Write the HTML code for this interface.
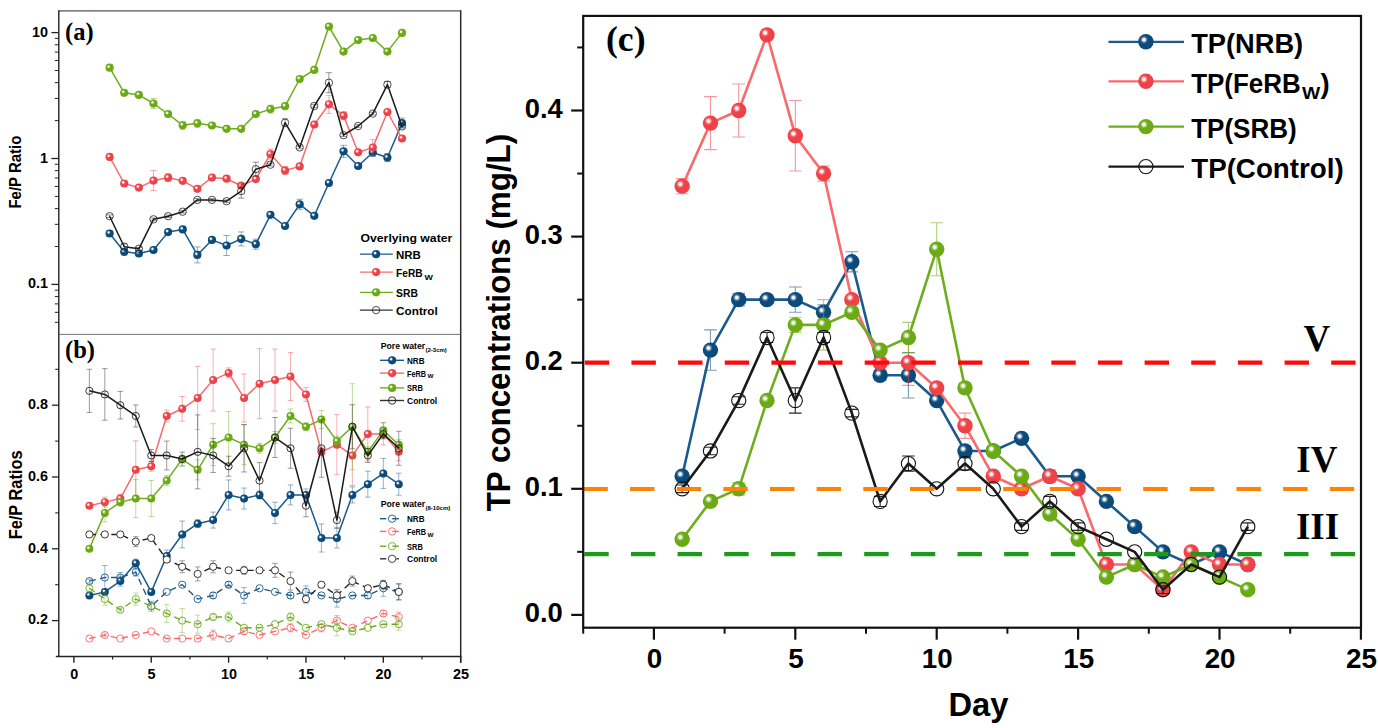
<!DOCTYPE html><html><head><meta charset="utf-8"><title>Figure</title><style>html,body{margin:0;padding:0;background:#fff}svg{display:block}</style></head><body>
<svg width="1378" height="728" viewBox="0 0 1378 728">
<defs>
<radialGradient id="gbh" cx="0.5" cy="0.5" r="0.5"><stop offset="0" stop-color="#fff" stop-opacity="1"/><stop offset="0.3" stop-color="#fff" stop-opacity="0.92"/><stop offset="1" stop-color="#0B4A7A" stop-opacity="0"/></radialGradient>
<radialGradient id="grh" cx="0.5" cy="0.5" r="0.5"><stop offset="0" stop-color="#fff" stop-opacity="1"/><stop offset="0.3" stop-color="#fff" stop-opacity="0.92"/><stop offset="1" stop-color="#EE4248" stop-opacity="0"/></radialGradient>
<radialGradient id="ggh" cx="0.5" cy="0.5" r="0.5"><stop offset="0" stop-color="#fff" stop-opacity="1"/><stop offset="0.3" stop-color="#fff" stop-opacity="0.92"/><stop offset="1" stop-color="#6AAA14" stop-opacity="0"/></radialGradient>
</defs>
<rect width="1378" height="728" fill="#fff"/>
<path d="M197.34 246.9V262.9M194.14 246.9H200.54M194.14 262.9H200.54" stroke="#0B4A7A" stroke-width="0.9" stroke-opacity="0.5" fill="none"/>
<path d="M226.58 235.5V255.5M223.38 235.5H229.78M223.38 255.5H229.78" stroke="#0B4A7A" stroke-width="0.9" stroke-opacity="0.5" fill="none"/>
<path d="M241.2 231.9V245.9M238 231.9H244.4M238 245.9H244.4" stroke="#0B4A7A" stroke-width="0.9" stroke-opacity="0.5" fill="none"/>
<path d="M255.82 239.2V249.2M252.62 239.2H259.02M252.62 249.2H259.02" stroke="#0B4A7A" stroke-width="0.9" stroke-opacity="0.5" fill="none"/>
<path d="M299.68 199.3V209.3M296.48 199.3H302.88M296.48 209.3H302.88" stroke="#0B4A7A" stroke-width="0.9" stroke-opacity="0.5" fill="none"/>
<path d="M343.54 145.3V157.3M340.34 145.3H346.74M340.34 157.3H346.74" stroke="#0B4A7A" stroke-width="0.9" stroke-opacity="0.5" fill="none"/>
<path d="M372.78 148.5V156.5M369.58 148.5H375.98M369.58 156.5H375.98" stroke="#0B4A7A" stroke-width="0.9" stroke-opacity="0.5" fill="none"/>
<path d="M387.4 153.5V161.5M384.2 153.5H390.6M384.2 161.5H390.6" stroke="#0B4A7A" stroke-width="0.9" stroke-opacity="0.5" fill="none"/>
<path d="M402.02 118.1V128.1M398.82 118.1H405.22M398.82 128.1H405.22" stroke="#0B4A7A" stroke-width="0.9" stroke-opacity="0.5" fill="none"/>
<path d="M124.24 248.8V254.8M121.04 248.8H127.44M121.04 254.8H127.44" stroke="#0B4A7A" stroke-width="0.9" stroke-opacity="0.5" fill="none"/>
<path d="M109.62 230.5V236.5M106.42 230.5H112.82M106.42 236.5H112.82" stroke="#0B4A7A" stroke-width="0.9" stroke-opacity="0.5" fill="none"/>
<polyline points="109.62,233.5 124.24,251.8 138.86,253.5 153.48,250 168.1,232.1 182.72,229.4 197.34,254.9 211.96,239.9 226.58,245.5 241.2,238.9 255.82,244.2 270.44,214.8 285.06,226 299.68,204.3 314.3,215.8 328.92,183 343.54,151.3 358.16,166 372.78,152.5 387.4,157.5 402.02,123.1" fill="none" stroke="#1A5A8C" stroke-width="1.5" stroke-linejoin="round"/>
<circle cx="109.62" cy="233.5" r="4.1" fill="#0B4A7A"/>
<circle cx="108.59" cy="232.39" r="2.46" fill="url(#gbh)"/>
<circle cx="124.24" cy="251.8" r="4.1" fill="#0B4A7A"/>
<circle cx="123.21" cy="250.69" r="2.46" fill="url(#gbh)"/>
<circle cx="138.86" cy="253.5" r="4.1" fill="#0B4A7A"/>
<circle cx="137.84" cy="252.39" r="2.46" fill="url(#gbh)"/>
<circle cx="153.48" cy="250" r="4.1" fill="#0B4A7A"/>
<circle cx="152.45" cy="248.89" r="2.46" fill="url(#gbh)"/>
<circle cx="168.1" cy="232.1" r="4.1" fill="#0B4A7A"/>
<circle cx="167.07" cy="230.99" r="2.46" fill="url(#gbh)"/>
<circle cx="182.72" cy="229.4" r="4.1" fill="#0B4A7A"/>
<circle cx="181.69" cy="228.29" r="2.46" fill="url(#gbh)"/>
<circle cx="197.34" cy="254.9" r="4.1" fill="#0B4A7A"/>
<circle cx="196.31" cy="253.79" r="2.46" fill="url(#gbh)"/>
<circle cx="211.96" cy="239.9" r="4.1" fill="#0B4A7A"/>
<circle cx="210.93" cy="238.79" r="2.46" fill="url(#gbh)"/>
<circle cx="226.58" cy="245.5" r="4.1" fill="#0B4A7A"/>
<circle cx="225.55" cy="244.39" r="2.46" fill="url(#gbh)"/>
<circle cx="241.2" cy="238.9" r="4.1" fill="#0B4A7A"/>
<circle cx="240.17" cy="237.79" r="2.46" fill="url(#gbh)"/>
<circle cx="255.82" cy="244.2" r="4.1" fill="#0B4A7A"/>
<circle cx="254.79" cy="243.09" r="2.46" fill="url(#gbh)"/>
<circle cx="270.44" cy="214.8" r="4.1" fill="#0B4A7A"/>
<circle cx="269.42" cy="213.69" r="2.46" fill="url(#gbh)"/>
<circle cx="285.06" cy="226" r="4.1" fill="#0B4A7A"/>
<circle cx="284.04" cy="224.89" r="2.46" fill="url(#gbh)"/>
<circle cx="299.68" cy="204.3" r="4.1" fill="#0B4A7A"/>
<circle cx="298.65" cy="203.19" r="2.46" fill="url(#gbh)"/>
<circle cx="314.3" cy="215.8" r="4.1" fill="#0B4A7A"/>
<circle cx="313.27" cy="214.69" r="2.46" fill="url(#gbh)"/>
<circle cx="328.92" cy="183" r="4.1" fill="#0B4A7A"/>
<circle cx="327.89" cy="181.89" r="2.46" fill="url(#gbh)"/>
<circle cx="343.54" cy="151.3" r="4.1" fill="#0B4A7A"/>
<circle cx="342.51" cy="150.19" r="2.46" fill="url(#gbh)"/>
<circle cx="358.16" cy="166" r="4.1" fill="#0B4A7A"/>
<circle cx="357.13" cy="164.89" r="2.46" fill="url(#gbh)"/>
<circle cx="372.78" cy="152.5" r="4.1" fill="#0B4A7A"/>
<circle cx="371.75" cy="151.39" r="2.46" fill="url(#gbh)"/>
<circle cx="387.4" cy="157.5" r="4.1" fill="#0B4A7A"/>
<circle cx="386.38" cy="156.39" r="2.46" fill="url(#gbh)"/>
<circle cx="402.02" cy="123.1" r="4.1" fill="#0B4A7A"/>
<circle cx="401" cy="121.99" r="2.46" fill="url(#gbh)"/>
<path d="M153.48 170.6V190.6M150.28 170.6H156.68M150.28 190.6H156.68" stroke="#EE4248" stroke-width="0.9" stroke-opacity="0.5" fill="none"/>
<path d="M168.1 173.7V181.7M164.9 173.7H171.3M164.9 181.7H171.3" stroke="#EE4248" stroke-width="0.9" stroke-opacity="0.5" fill="none"/>
<path d="M270.44 149V159M267.24 149H273.64M267.24 159H273.64" stroke="#EE4248" stroke-width="0.9" stroke-opacity="0.5" fill="none"/>
<path d="M285.06 166.5V174.5M281.86 166.5H288.26M281.86 174.5H288.26" stroke="#EE4248" stroke-width="0.9" stroke-opacity="0.5" fill="none"/>
<path d="M328.92 95.3V113.3M325.72 95.3H332.12M325.72 113.3H332.12" stroke="#EE4248" stroke-width="0.9" stroke-opacity="0.5" fill="none"/>
<path d="M343.54 111.7V119.7M340.34 111.7H346.74M340.34 119.7H346.74" stroke="#EE4248" stroke-width="0.9" stroke-opacity="0.5" fill="none"/>
<path d="M372.78 139.6V155.6M369.58 139.6H375.98M369.58 155.6H375.98" stroke="#EE4248" stroke-width="0.9" stroke-opacity="0.5" fill="none"/>
<path d="M138.86 185.6V189.6M135.66 185.6H142.06M135.66 189.6H142.06" stroke="#EE4248" stroke-width="0.9" stroke-opacity="0.5" fill="none"/>
<path d="M197.34 186.8V190.8M194.14 186.8H200.54M194.14 190.8H200.54" stroke="#EE4248" stroke-width="0.9" stroke-opacity="0.5" fill="none"/>
<polyline points="109.62,156.9 124.24,183.5 138.86,187.6 153.48,180.6 168.1,177.7 182.72,180.8 197.34,188.8 211.96,177.5 226.58,178.7 241.2,185.7 255.82,179.1 270.44,154 285.06,170.5 299.68,166.4 314.3,124.5 328.92,104.3 343.54,115.7 358.16,152.3 372.78,147.6 387.4,112 402.02,138.5" fill="none" stroke="#F86A6C" stroke-width="1.5" stroke-linejoin="round"/>
<circle cx="109.62" cy="156.9" r="4.1" fill="#EE4248"/>
<circle cx="108.59" cy="155.79" r="2.46" fill="url(#grh)"/>
<circle cx="124.24" cy="183.5" r="4.1" fill="#EE4248"/>
<circle cx="123.21" cy="182.39" r="2.46" fill="url(#grh)"/>
<circle cx="138.86" cy="187.6" r="4.1" fill="#EE4248"/>
<circle cx="137.84" cy="186.49" r="2.46" fill="url(#grh)"/>
<circle cx="153.48" cy="180.6" r="4.1" fill="#EE4248"/>
<circle cx="152.45" cy="179.49" r="2.46" fill="url(#grh)"/>
<circle cx="168.1" cy="177.7" r="4.1" fill="#EE4248"/>
<circle cx="167.07" cy="176.59" r="2.46" fill="url(#grh)"/>
<circle cx="182.72" cy="180.8" r="4.1" fill="#EE4248"/>
<circle cx="181.69" cy="179.69" r="2.46" fill="url(#grh)"/>
<circle cx="197.34" cy="188.8" r="4.1" fill="#EE4248"/>
<circle cx="196.31" cy="187.69" r="2.46" fill="url(#grh)"/>
<circle cx="211.96" cy="177.5" r="4.1" fill="#EE4248"/>
<circle cx="210.93" cy="176.39" r="2.46" fill="url(#grh)"/>
<circle cx="226.58" cy="178.7" r="4.1" fill="#EE4248"/>
<circle cx="225.55" cy="177.59" r="2.46" fill="url(#grh)"/>
<circle cx="241.2" cy="185.7" r="4.1" fill="#EE4248"/>
<circle cx="240.17" cy="184.59" r="2.46" fill="url(#grh)"/>
<circle cx="255.82" cy="179.1" r="4.1" fill="#EE4248"/>
<circle cx="254.79" cy="177.99" r="2.46" fill="url(#grh)"/>
<circle cx="270.44" cy="154" r="4.1" fill="#EE4248"/>
<circle cx="269.42" cy="152.89" r="2.46" fill="url(#grh)"/>
<circle cx="285.06" cy="170.5" r="4.1" fill="#EE4248"/>
<circle cx="284.04" cy="169.39" r="2.46" fill="url(#grh)"/>
<circle cx="299.68" cy="166.4" r="4.1" fill="#EE4248"/>
<circle cx="298.65" cy="165.29" r="2.46" fill="url(#grh)"/>
<circle cx="314.3" cy="124.5" r="4.1" fill="#EE4248"/>
<circle cx="313.27" cy="123.39" r="2.46" fill="url(#grh)"/>
<circle cx="328.92" cy="104.3" r="4.1" fill="#EE4248"/>
<circle cx="327.89" cy="103.19" r="2.46" fill="url(#grh)"/>
<circle cx="343.54" cy="115.7" r="4.1" fill="#EE4248"/>
<circle cx="342.51" cy="114.59" r="2.46" fill="url(#grh)"/>
<circle cx="358.16" cy="152.3" r="4.1" fill="#EE4248"/>
<circle cx="357.13" cy="151.19" r="2.46" fill="url(#grh)"/>
<circle cx="372.78" cy="147.6" r="4.1" fill="#EE4248"/>
<circle cx="371.75" cy="146.49" r="2.46" fill="url(#grh)"/>
<circle cx="387.4" cy="112" r="4.1" fill="#EE4248"/>
<circle cx="386.38" cy="110.89" r="2.46" fill="url(#grh)"/>
<circle cx="402.02" cy="138.5" r="4.1" fill="#EE4248"/>
<circle cx="401" cy="137.39" r="2.46" fill="url(#grh)"/>
<path d="M109.62 64.7V70.7M106.42 64.7H112.82M106.42 70.7H112.82" stroke="#6AAA14" stroke-width="0.9" stroke-opacity="0.5" fill="none"/>
<path d="M153.48 98.5V108.5M150.28 98.5H156.68M150.28 108.5H156.68" stroke="#6AAA14" stroke-width="0.9" stroke-opacity="0.5" fill="none"/>
<path d="M182.72 121.3V129.3M179.52 121.3H185.92M179.52 129.3H185.92" stroke="#6AAA14" stroke-width="0.9" stroke-opacity="0.5" fill="none"/>
<path d="M197.34 119.3V127.3M194.14 119.3H200.54M194.14 127.3H200.54" stroke="#6AAA14" stroke-width="0.9" stroke-opacity="0.5" fill="none"/>
<path d="M211.96 123.5V127.5M208.76 123.5H215.16M208.76 127.5H215.16" stroke="#6AAA14" stroke-width="0.9" stroke-opacity="0.5" fill="none"/>
<path d="M270.44 105.1V113.1M267.24 105.1H273.64M267.24 113.1H273.64" stroke="#6AAA14" stroke-width="0.9" stroke-opacity="0.5" fill="none"/>
<path d="M255.82 112V116M252.62 112H259.02M252.62 116H259.02" stroke="#6AAA14" stroke-width="0.9" stroke-opacity="0.5" fill="none"/>
<polyline points="109.62,67.7 124.24,92.8 138.86,94.9 153.48,103.5 168.1,114 182.72,125.3 197.34,123.3 211.96,125.5 226.58,128.8 241.2,128.8 255.82,114 270.44,109.1 285.06,106.2 299.68,79 314.3,69.9 328.92,26.5 343.54,51.6 358.16,40.1 372.78,38 387.4,51.6 402.02,32.9" fill="none" stroke="#6EAE1E" stroke-width="1.5" stroke-linejoin="round"/>
<circle cx="109.62" cy="67.7" r="4.1" fill="#6AAA14"/>
<circle cx="108.59" cy="66.59" r="2.46" fill="url(#ggh)"/>
<circle cx="124.24" cy="92.8" r="4.1" fill="#6AAA14"/>
<circle cx="123.21" cy="91.69" r="2.46" fill="url(#ggh)"/>
<circle cx="138.86" cy="94.9" r="4.1" fill="#6AAA14"/>
<circle cx="137.84" cy="93.79" r="2.46" fill="url(#ggh)"/>
<circle cx="153.48" cy="103.5" r="4.1" fill="#6AAA14"/>
<circle cx="152.45" cy="102.39" r="2.46" fill="url(#ggh)"/>
<circle cx="168.1" cy="114" r="4.1" fill="#6AAA14"/>
<circle cx="167.07" cy="112.89" r="2.46" fill="url(#ggh)"/>
<circle cx="182.72" cy="125.3" r="4.1" fill="#6AAA14"/>
<circle cx="181.69" cy="124.19" r="2.46" fill="url(#ggh)"/>
<circle cx="197.34" cy="123.3" r="4.1" fill="#6AAA14"/>
<circle cx="196.31" cy="122.19" r="2.46" fill="url(#ggh)"/>
<circle cx="211.96" cy="125.5" r="4.1" fill="#6AAA14"/>
<circle cx="210.93" cy="124.39" r="2.46" fill="url(#ggh)"/>
<circle cx="226.58" cy="128.8" r="4.1" fill="#6AAA14"/>
<circle cx="225.55" cy="127.69" r="2.46" fill="url(#ggh)"/>
<circle cx="241.2" cy="128.8" r="4.1" fill="#6AAA14"/>
<circle cx="240.17" cy="127.69" r="2.46" fill="url(#ggh)"/>
<circle cx="255.82" cy="114" r="4.1" fill="#6AAA14"/>
<circle cx="254.79" cy="112.89" r="2.46" fill="url(#ggh)"/>
<circle cx="270.44" cy="109.1" r="4.1" fill="#6AAA14"/>
<circle cx="269.42" cy="107.99" r="2.46" fill="url(#ggh)"/>
<circle cx="285.06" cy="106.2" r="4.1" fill="#6AAA14"/>
<circle cx="284.04" cy="105.09" r="2.46" fill="url(#ggh)"/>
<circle cx="299.68" cy="79" r="4.1" fill="#6AAA14"/>
<circle cx="298.65" cy="77.89" r="2.46" fill="url(#ggh)"/>
<circle cx="314.3" cy="69.9" r="4.1" fill="#6AAA14"/>
<circle cx="313.27" cy="68.79" r="2.46" fill="url(#ggh)"/>
<circle cx="328.92" cy="26.5" r="4.1" fill="#6AAA14"/>
<circle cx="327.89" cy="25.39" r="2.46" fill="url(#ggh)"/>
<circle cx="343.54" cy="51.6" r="4.1" fill="#6AAA14"/>
<circle cx="342.51" cy="50.49" r="2.46" fill="url(#ggh)"/>
<circle cx="358.16" cy="40.1" r="4.1" fill="#6AAA14"/>
<circle cx="357.13" cy="38.99" r="2.46" fill="url(#ggh)"/>
<circle cx="372.78" cy="38" r="4.1" fill="#6AAA14"/>
<circle cx="371.75" cy="36.89" r="2.46" fill="url(#ggh)"/>
<circle cx="387.4" cy="51.6" r="4.1" fill="#6AAA14"/>
<circle cx="386.38" cy="50.49" r="2.46" fill="url(#ggh)"/>
<circle cx="402.02" cy="32.9" r="4.1" fill="#6AAA14"/>
<circle cx="401" cy="31.79" r="2.46" fill="url(#ggh)"/>
<path d="M241.2 184.1V198.1M238 184.1H244.4M238 198.1H244.4" stroke="#1a1a1a" stroke-width="0.9" stroke-opacity="0.5" fill="none"/>
<path d="M255.82 162.2V176.2M252.62 162.2H259.02M252.62 176.2H259.02" stroke="#1a1a1a" stroke-width="0.9" stroke-opacity="0.5" fill="none"/>
<path d="M285.06 118.7V126.7M281.86 118.7H288.26M281.86 126.7H288.26" stroke="#1a1a1a" stroke-width="0.9" stroke-opacity="0.5" fill="none"/>
<path d="M328.92 72.7V92.7M325.72 72.7H332.12M325.72 92.7H332.12" stroke="#1a1a1a" stroke-width="0.9" stroke-opacity="0.5" fill="none"/>
<path d="M387.4 81.6V87.6M384.2 81.6H390.6M384.2 87.6H390.6" stroke="#1a1a1a" stroke-width="0.9" stroke-opacity="0.5" fill="none"/>
<path d="M124.24 243.7V249.7M121.04 243.7H127.44M121.04 249.7H127.44" stroke="#1a1a1a" stroke-width="0.9" stroke-opacity="0.5" fill="none"/>
<path d="M109.62 214.9V217.5M106.42 214.9H112.82M106.42 217.5H112.82" stroke="#1a1a1a" stroke-width="0.9" stroke-opacity="0.5" fill="none"/>
<path d="M138.86 247.5V250.1M135.66 247.5H142.06M135.66 250.1H142.06" stroke="#1a1a1a" stroke-width="0.9" stroke-opacity="0.5" fill="none"/>
<path d="M153.48 218V220.6M150.28 218H156.68M150.28 220.6H156.68" stroke="#1a1a1a" stroke-width="0.9" stroke-opacity="0.5" fill="none"/>
<path d="M168.1 214.9V217.5M164.9 214.9H171.3M164.9 217.5H171.3" stroke="#1a1a1a" stroke-width="0.9" stroke-opacity="0.5" fill="none"/>
<path d="M182.72 210.4V213M179.52 210.4H185.92M179.52 213H185.92" stroke="#1a1a1a" stroke-width="0.9" stroke-opacity="0.5" fill="none"/>
<path d="M197.34 198.6V201.2M194.14 198.6H200.54M194.14 201.2H200.54" stroke="#1a1a1a" stroke-width="0.9" stroke-opacity="0.5" fill="none"/>
<path d="M211.96 198.6V201.2M208.76 198.6H215.16M208.76 201.2H215.16" stroke="#1a1a1a" stroke-width="0.9" stroke-opacity="0.5" fill="none"/>
<path d="M226.58 199.9V202.5M223.38 199.9H229.78M223.38 202.5H229.78" stroke="#1a1a1a" stroke-width="0.9" stroke-opacity="0.5" fill="none"/>
<path d="M270.44 163.4V166M267.24 163.4H273.64M267.24 166H273.64" stroke="#1a1a1a" stroke-width="0.9" stroke-opacity="0.5" fill="none"/>
<path d="M299.68 146.1V148.7M296.48 146.1H302.88M296.48 148.7H302.88" stroke="#1a1a1a" stroke-width="0.9" stroke-opacity="0.5" fill="none"/>
<path d="M314.3 104.7V107.3M311.1 104.7H317.5M311.1 107.3H317.5" stroke="#1a1a1a" stroke-width="0.9" stroke-opacity="0.5" fill="none"/>
<path d="M343.54 133.9V136.5M340.34 133.9H346.74M340.34 136.5H346.74" stroke="#1a1a1a" stroke-width="0.9" stroke-opacity="0.5" fill="none"/>
<path d="M358.16 124.7V127.3M354.96 124.7H361.36M354.96 127.3H361.36" stroke="#1a1a1a" stroke-width="0.9" stroke-opacity="0.5" fill="none"/>
<path d="M372.78 112.3V114.9M369.58 112.3H375.98M369.58 114.9H375.98" stroke="#1a1a1a" stroke-width="0.9" stroke-opacity="0.5" fill="none"/>
<path d="M402.02 125.1V127.7M398.82 125.1H405.22M398.82 127.7H405.22" stroke="#1a1a1a" stroke-width="0.9" stroke-opacity="0.5" fill="none"/>
<polyline points="109.62,216.2 124.24,246.7 138.86,248.8 153.48,219.3 168.1,216.2 182.72,211.7 197.34,199.9 211.96,199.9 226.58,201.2 241.2,191.1 255.82,169.2 270.44,164.7 285.06,122.7 299.68,147.4 314.3,106 328.92,82.7 343.54,135.2 358.16,126 372.78,113.6 387.4,84.6 402.02,126.4" fill="none" stroke="#1a1a1a" stroke-width="1.5" stroke-linejoin="round"/>
<circle cx="109.62" cy="216.2" r="3.7" fill="none" stroke="#222" stroke-width="0.8"/>
<circle cx="124.24" cy="246.7" r="3.7" fill="none" stroke="#222" stroke-width="0.8"/>
<circle cx="138.86" cy="248.8" r="3.7" fill="none" stroke="#222" stroke-width="0.8"/>
<circle cx="153.48" cy="219.3" r="3.7" fill="none" stroke="#222" stroke-width="0.8"/>
<circle cx="168.1" cy="216.2" r="3.7" fill="none" stroke="#222" stroke-width="0.8"/>
<circle cx="182.72" cy="211.7" r="3.7" fill="none" stroke="#222" stroke-width="0.8"/>
<circle cx="197.34" cy="199.9" r="3.7" fill="none" stroke="#222" stroke-width="0.8"/>
<circle cx="211.96" cy="199.9" r="3.7" fill="none" stroke="#222" stroke-width="0.8"/>
<circle cx="226.58" cy="201.2" r="3.7" fill="none" stroke="#222" stroke-width="0.8"/>
<circle cx="241.2" cy="191.1" r="3.7" fill="none" stroke="#222" stroke-width="0.8"/>
<circle cx="255.82" cy="169.2" r="3.7" fill="none" stroke="#222" stroke-width="0.8"/>
<circle cx="270.44" cy="164.7" r="3.7" fill="none" stroke="#222" stroke-width="0.8"/>
<circle cx="285.06" cy="122.7" r="3.7" fill="none" stroke="#222" stroke-width="0.8"/>
<circle cx="299.68" cy="147.4" r="3.7" fill="none" stroke="#222" stroke-width="0.8"/>
<circle cx="314.3" cy="106" r="3.7" fill="none" stroke="#222" stroke-width="0.8"/>
<circle cx="328.92" cy="82.7" r="3.7" fill="none" stroke="#222" stroke-width="0.8"/>
<circle cx="343.54" cy="135.2" r="3.7" fill="none" stroke="#222" stroke-width="0.8"/>
<circle cx="358.16" cy="126" r="3.7" fill="none" stroke="#222" stroke-width="0.8"/>
<circle cx="372.78" cy="113.6" r="3.7" fill="none" stroke="#222" stroke-width="0.8"/>
<circle cx="387.4" cy="84.6" r="3.7" fill="none" stroke="#222" stroke-width="0.8"/>
<circle cx="402.02" cy="126.4" r="3.7" fill="none" stroke="#222" stroke-width="0.8"/>
<line x1="58.8" y1="10.9" x2="460.7" y2="10.9" stroke="#555" stroke-width="1.3"/>
<line x1="460.7" y1="10.3" x2="460.7" y2="662.7" stroke="#2a2a2a" stroke-width="1.5"/>
<line x1="58.8" y1="10.3" x2="58.8" y2="656.4" stroke="#222" stroke-width="1.4"/>
<line x1="58.8" y1="334.4" x2="460.7" y2="334.4" stroke="#666" stroke-width="0.9"/>
<line x1="54.8" y1="322.3" x2="58.8" y2="322.3" stroke="#222" stroke-width="1.0"/>
<line x1="54.8" y1="312.33" x2="58.8" y2="312.33" stroke="#222" stroke-width="1.0"/>
<line x1="54.8" y1="303.9" x2="58.8" y2="303.9" stroke="#222" stroke-width="1.0"/>
<line x1="54.8" y1="296.6" x2="58.8" y2="296.6" stroke="#222" stroke-width="1.0"/>
<line x1="54.8" y1="290.16" x2="58.8" y2="290.16" stroke="#222" stroke-width="1.0"/>
<line x1="51.4" y1="284.4" x2="58.8" y2="284.4" stroke="#222" stroke-width="1.3"/>
<line x1="54.8" y1="246.5" x2="58.8" y2="246.5" stroke="#222" stroke-width="1.0"/>
<line x1="54.8" y1="224.33" x2="58.8" y2="224.33" stroke="#222" stroke-width="1.0"/>
<line x1="54.8" y1="208.6" x2="58.8" y2="208.6" stroke="#222" stroke-width="1.0"/>
<line x1="54.8" y1="196.4" x2="58.8" y2="196.4" stroke="#222" stroke-width="1.0"/>
<line x1="54.8" y1="186.43" x2="58.8" y2="186.43" stroke="#222" stroke-width="1.0"/>
<line x1="54.8" y1="178" x2="58.8" y2="178" stroke="#222" stroke-width="1.0"/>
<line x1="54.8" y1="170.7" x2="58.8" y2="170.7" stroke="#222" stroke-width="1.0"/>
<line x1="54.8" y1="164.26" x2="58.8" y2="164.26" stroke="#222" stroke-width="1.0"/>
<line x1="51.4" y1="158.5" x2="58.8" y2="158.5" stroke="#222" stroke-width="1.3"/>
<line x1="54.8" y1="120.6" x2="58.8" y2="120.6" stroke="#222" stroke-width="1.0"/>
<line x1="54.8" y1="98.43" x2="58.8" y2="98.43" stroke="#222" stroke-width="1.0"/>
<line x1="54.8" y1="82.7" x2="58.8" y2="82.7" stroke="#222" stroke-width="1.0"/>
<line x1="54.8" y1="70.5" x2="58.8" y2="70.5" stroke="#222" stroke-width="1.0"/>
<line x1="54.8" y1="60.53" x2="58.8" y2="60.53" stroke="#222" stroke-width="1.0"/>
<line x1="54.8" y1="52.1" x2="58.8" y2="52.1" stroke="#222" stroke-width="1.0"/>
<line x1="54.8" y1="44.8" x2="58.8" y2="44.8" stroke="#222" stroke-width="1.0"/>
<line x1="54.8" y1="38.36" x2="58.8" y2="38.36" stroke="#222" stroke-width="1.0"/>
<line x1="51.4" y1="32.6" x2="58.8" y2="32.6" stroke="#222" stroke-width="1.3"/>
<text x="48.1" y="36.8" font-family="Liberation Sans" font-weight="bold" font-size="14.4" text-anchor="end" fill="#000">10</text>
<text x="48.1" y="162.6" font-family="Liberation Sans" font-weight="bold" font-size="14.4" text-anchor="end" fill="#000">1</text>
<text x="48.1" y="288.4" font-family="Liberation Sans" font-weight="bold" font-size="14.4" text-anchor="end" fill="#000">0.1</text>
<text x="65" y="39.9" font-family="Liberation Serif" font-weight="bold" font-size="24.5" textLength="28.6" lengthAdjust="spacingAndGlyphs" fill="#000">(a)</text>
<text x="21" y="208.6" font-family="Liberation Sans" font-weight="bold" font-size="16.4" textLength="73" lengthAdjust="spacingAndGlyphs" transform="rotate(-90 21 208.6)" fill="#000">Fe/P Ratio</text>
<text x="360.5" y="241.6" font-family="Liberation Sans" font-weight="bold" font-size="11.7" textLength="91.8" lengthAdjust="spacingAndGlyphs" fill="#000">Overlying water</text>
<line x1="359.9" y1="254.2" x2="392.8" y2="254.2" stroke="#1A5A8C" stroke-width="1.3"/>
<circle cx="376.1" cy="254.2" r="4.1" fill="#0B4A7A"/>
<circle cx="375.08" cy="253.09" r="2.46" fill="url(#gbh)"/>
<text x="396.1" y="258.9" font-family="Liberation Sans" font-weight="bold" font-size="11.7" textLength="24.8" lengthAdjust="spacingAndGlyphs" fill="#000">NRB</text>
<line x1="359.9" y1="272.1" x2="392.8" y2="272.1" stroke="#F86A6C" stroke-width="1.3"/>
<circle cx="376.1" cy="272.1" r="4.1" fill="#EE4248"/>
<circle cx="375.08" cy="270.99" r="2.46" fill="url(#grh)"/>
<text x="396.1" y="276.8" font-family="Liberation Sans" font-weight="bold" font-size="11.7" textLength="26.6" lengthAdjust="spacingAndGlyphs" fill="#000">FeRB</text>
<line x1="359.9" y1="292.3" x2="392.8" y2="292.3" stroke="#6EAE1E" stroke-width="1.3"/>
<circle cx="376.1" cy="292.3" r="4.1" fill="#6AAA14"/>
<circle cx="375.08" cy="291.19" r="2.46" fill="url(#ggh)"/>
<text x="396.1" y="297.1" font-family="Liberation Sans" font-weight="bold" font-size="11.7" textLength="21.8" lengthAdjust="spacingAndGlyphs" fill="#000">SRB</text>
<line x1="359.9" y1="310.1" x2="392.8" y2="310.1" stroke="#333" stroke-width="1.3"/>
<circle cx="376.1" cy="310.1" r="3.7" fill="none" stroke="#222" stroke-width="0.8"/>
<text x="396.1" y="314.6" font-family="Liberation Sans" font-weight="bold" font-size="11.7" textLength="41.7" lengthAdjust="spacingAndGlyphs" fill="#000">Control</text>
<text x="424.6" y="280" font-family="Liberation Sans" font-weight="bold" font-size="7" textLength="8.4" lengthAdjust="spacingAndGlyphs" fill="#000">W</text>
<path d="M135.78 559.16V567.16M132.98 559.16H138.58M132.98 567.16H138.58" stroke="#0B4A7A" stroke-width="0.85" stroke-opacity="0.5" fill="none"/>
<path d="M166.72 549.98V561.98M163.92 549.98H169.52M163.92 561.98H169.52" stroke="#0B4A7A" stroke-width="0.85" stroke-opacity="0.5" fill="none"/>
<path d="M182.19 521.04V547.84M179.39 521.04H184.99M179.39 547.84H184.99" stroke="#0B4A7A" stroke-width="0.85" stroke-opacity="0.5" fill="none"/>
<path d="M197.66 519.67V527.67M194.86 519.67H200.46M194.86 527.67H200.46" stroke="#0B4A7A" stroke-width="0.85" stroke-opacity="0.5" fill="none"/>
<path d="M213.13 512.08V528.08M210.33 512.08H215.93M210.33 528.08H215.93" stroke="#0B4A7A" stroke-width="0.85" stroke-opacity="0.5" fill="none"/>
<path d="M228.6 479.95V509.95M225.8 479.95H231.4M225.8 509.95H231.4" stroke="#0B4A7A" stroke-width="0.85" stroke-opacity="0.5" fill="none"/>
<path d="M244.07 488.04V509.04M241.27 488.04H246.87M241.27 509.04H246.87" stroke="#0B4A7A" stroke-width="0.85" stroke-opacity="0.5" fill="none"/>
<path d="M259.54 490.95V498.95M256.74 490.95H262.34M256.74 498.95H262.34" stroke="#0B4A7A" stroke-width="0.85" stroke-opacity="0.5" fill="none"/>
<path d="M275.01 502.2V523.6M272.21 502.2H277.81M272.21 523.6H277.81" stroke="#0B4A7A" stroke-width="0.85" stroke-opacity="0.5" fill="none"/>
<path d="M290.48 484.95V504.95M287.68 484.95H293.28M287.68 504.95H293.28" stroke="#0B4A7A" stroke-width="0.85" stroke-opacity="0.5" fill="none"/>
<path d="M305.95 488.95V500.95M303.15 488.95H308.75M303.15 500.95H308.75" stroke="#0B4A7A" stroke-width="0.85" stroke-opacity="0.5" fill="none"/>
<path d="M321.42 524.03V552.03M318.62 524.03H324.22M318.62 552.03H324.22" stroke="#0B4A7A" stroke-width="0.85" stroke-opacity="0.5" fill="none"/>
<path d="M336.89 528.03V548.03M334.09 528.03H339.69M334.09 548.03H339.69" stroke="#0B4A7A" stroke-width="0.85" stroke-opacity="0.5" fill="none"/>
<path d="M352.36 486.95V502.95M349.56 486.95H355.16M349.56 502.95H355.16" stroke="#0B4A7A" stroke-width="0.85" stroke-opacity="0.5" fill="none"/>
<path d="M367.83 471.18V497.18M365.03 471.18H370.63M365.03 497.18H370.63" stroke="#0B4A7A" stroke-width="0.85" stroke-opacity="0.5" fill="none"/>
<path d="M383.3 458.41V488.41M380.5 458.41H386.1M380.5 488.41H386.1" stroke="#0B4A7A" stroke-width="0.85" stroke-opacity="0.5" fill="none"/>
<path d="M398.77 473.18V495.18M395.97 473.18H401.57M395.97 495.18H401.57" stroke="#0B4A7A" stroke-width="0.85" stroke-opacity="0.5" fill="none"/>
<path d="M104.84 588.88V594.88M102.04 588.88H107.64M102.04 594.88H107.64" stroke="#0B4A7A" stroke-width="0.85" stroke-opacity="0.5" fill="none"/>
<path d="M120.31 576.11V586.11M117.51 576.11H123.11M117.51 586.11H123.11" stroke="#0B4A7A" stroke-width="0.85" stroke-opacity="0.5" fill="none"/>
<polyline points="89.37,595.47 104.84,591.88 120.31,581.11 135.78,563.16 151.25,591.88 166.72,555.98 182.19,534.44 197.66,523.67 213.13,520.08 228.6,494.95 244.07,498.54 259.54,494.95 275.01,512.9 290.48,494.95 305.95,494.95 321.42,538.03 336.89,538.03 352.36,494.95 367.83,484.18 383.3,473.41 398.77,484.18" fill="none" stroke="#1A5A8C" stroke-width="1.5" stroke-linejoin="round"/>
<circle cx="89.37" cy="595.47" r="4" fill="#0B4A7A"/>
<circle cx="88.37" cy="594.39" r="2.4" fill="url(#gbh)"/>
<circle cx="104.84" cy="591.88" r="4" fill="#0B4A7A"/>
<circle cx="103.84" cy="590.8" r="2.4" fill="url(#gbh)"/>
<circle cx="120.31" cy="581.11" r="4" fill="#0B4A7A"/>
<circle cx="119.31" cy="580.03" r="2.4" fill="url(#gbh)"/>
<circle cx="135.78" cy="563.16" r="4" fill="#0B4A7A"/>
<circle cx="134.78" cy="562.08" r="2.4" fill="url(#gbh)"/>
<circle cx="151.25" cy="591.88" r="4" fill="#0B4A7A"/>
<circle cx="150.25" cy="590.8" r="2.4" fill="url(#gbh)"/>
<circle cx="166.72" cy="555.98" r="4" fill="#0B4A7A"/>
<circle cx="165.72" cy="554.9" r="2.4" fill="url(#gbh)"/>
<circle cx="182.19" cy="534.44" r="4" fill="#0B4A7A"/>
<circle cx="181.19" cy="533.36" r="2.4" fill="url(#gbh)"/>
<circle cx="197.66" cy="523.67" r="4" fill="#0B4A7A"/>
<circle cx="196.66" cy="522.59" r="2.4" fill="url(#gbh)"/>
<circle cx="213.13" cy="520.08" r="4" fill="#0B4A7A"/>
<circle cx="212.13" cy="519" r="2.4" fill="url(#gbh)"/>
<circle cx="228.6" cy="494.95" r="4" fill="#0B4A7A"/>
<circle cx="227.6" cy="493.87" r="2.4" fill="url(#gbh)"/>
<circle cx="244.07" cy="498.54" r="4" fill="#0B4A7A"/>
<circle cx="243.07" cy="497.46" r="2.4" fill="url(#gbh)"/>
<circle cx="259.54" cy="494.95" r="4" fill="#0B4A7A"/>
<circle cx="258.54" cy="493.87" r="2.4" fill="url(#gbh)"/>
<circle cx="275.01" cy="512.9" r="4" fill="#0B4A7A"/>
<circle cx="274.01" cy="511.82" r="2.4" fill="url(#gbh)"/>
<circle cx="290.48" cy="494.95" r="4" fill="#0B4A7A"/>
<circle cx="289.48" cy="493.87" r="2.4" fill="url(#gbh)"/>
<circle cx="305.95" cy="494.95" r="4" fill="#0B4A7A"/>
<circle cx="304.95" cy="493.87" r="2.4" fill="url(#gbh)"/>
<circle cx="321.42" cy="538.03" r="4" fill="#0B4A7A"/>
<circle cx="320.42" cy="536.95" r="2.4" fill="url(#gbh)"/>
<circle cx="336.89" cy="538.03" r="4" fill="#0B4A7A"/>
<circle cx="335.89" cy="536.95" r="2.4" fill="url(#gbh)"/>
<circle cx="352.36" cy="494.95" r="4" fill="#0B4A7A"/>
<circle cx="351.36" cy="493.87" r="2.4" fill="url(#gbh)"/>
<circle cx="367.83" cy="484.18" r="4" fill="#0B4A7A"/>
<circle cx="366.83" cy="483.1" r="2.4" fill="url(#gbh)"/>
<circle cx="383.3" cy="473.41" r="4" fill="#0B4A7A"/>
<circle cx="382.3" cy="472.33" r="2.4" fill="url(#gbh)"/>
<circle cx="398.77" cy="484.18" r="4" fill="#0B4A7A"/>
<circle cx="397.77" cy="483.1" r="2.4" fill="url(#gbh)"/>
<path d="M104.84 497.13V507.13M102.04 497.13H107.64M102.04 507.13H107.64" stroke="#EE4248" stroke-width="0.85" stroke-opacity="0.5" fill="none"/>
<path d="M120.31 494.54V502.54M117.51 494.54H123.11M117.51 502.54H123.11" stroke="#EE4248" stroke-width="0.85" stroke-opacity="0.5" fill="none"/>
<path d="M135.78 440.82V498.82M132.98 440.82H138.58M132.98 498.82H138.58" stroke="#EE4248" stroke-width="0.85" stroke-opacity="0.5" fill="none"/>
<path d="M151.25 461.23V471.23M148.45 461.23H154.05M148.45 471.23H154.05" stroke="#EE4248" stroke-width="0.85" stroke-opacity="0.5" fill="none"/>
<path d="M166.72 409.97V421.97M163.92 409.97H169.52M163.92 421.97H169.52" stroke="#EE4248" stroke-width="0.85" stroke-opacity="0.5" fill="none"/>
<path d="M182.19 396.39V421.19M179.39 396.39H184.99M179.39 421.19H184.99" stroke="#EE4248" stroke-width="0.85" stroke-opacity="0.5" fill="none"/>
<path d="M197.66 366.42V429.62M194.86 366.42H200.46M194.86 429.62H200.46" stroke="#EE4248" stroke-width="0.85" stroke-opacity="0.5" fill="none"/>
<path d="M213.13 349.07V411.07M210.33 349.07H215.93M210.33 411.07H215.93" stroke="#EE4248" stroke-width="0.85" stroke-opacity="0.5" fill="none"/>
<path d="M228.6 367.89V377.89M225.8 367.89H231.4M225.8 377.89H231.4" stroke="#EE4248" stroke-width="0.85" stroke-opacity="0.5" fill="none"/>
<path d="M244.07 374.02V422.02M241.27 374.02H246.87M241.27 422.02H246.87" stroke="#EE4248" stroke-width="0.85" stroke-opacity="0.5" fill="none"/>
<path d="M259.54 348.66V418.66M256.74 348.66H262.34M256.74 418.66H262.34" stroke="#EE4248" stroke-width="0.85" stroke-opacity="0.5" fill="none"/>
<path d="M275.01 349.07V411.07M272.21 349.07H277.81M272.21 411.07H277.81" stroke="#EE4248" stroke-width="0.85" stroke-opacity="0.5" fill="none"/>
<path d="M290.48 352.48V400.48M287.68 352.48H293.28M287.68 400.48H293.28" stroke="#EE4248" stroke-width="0.85" stroke-opacity="0.5" fill="none"/>
<path d="M305.95 387.43V401.43M303.15 387.43H308.75M303.15 401.43H308.75" stroke="#EE4248" stroke-width="0.85" stroke-opacity="0.5" fill="none"/>
<path d="M321.42 447.87V455.87M318.62 447.87H324.22M318.62 455.87H324.22" stroke="#EE4248" stroke-width="0.85" stroke-opacity="0.5" fill="none"/>
<path d="M336.89 414.69V474.69M334.09 414.69H339.69M334.09 474.69H339.69" stroke="#EE4248" stroke-width="0.85" stroke-opacity="0.5" fill="none"/>
<path d="M352.36 425.46V485.46M349.56 425.46H355.16M349.56 485.46H355.16" stroke="#EE4248" stroke-width="0.85" stroke-opacity="0.5" fill="none"/>
<path d="M367.83 406.92V460.92M365.03 406.92H370.63M365.03 460.92H370.63" stroke="#EE4248" stroke-width="0.85" stroke-opacity="0.5" fill="none"/>
<path d="M383.3 422.92V444.92M380.5 422.92H386.1M380.5 444.92H386.1" stroke="#EE4248" stroke-width="0.85" stroke-opacity="0.5" fill="none"/>
<path d="M398.77 442.87V460.87M395.97 442.87H401.57M395.97 460.87H401.57" stroke="#EE4248" stroke-width="0.85" stroke-opacity="0.5" fill="none"/>
<polyline points="89.37,505.72 104.84,502.13 120.31,498.54 135.78,469.82 151.25,466.23 166.72,415.97 182.19,408.79 197.66,398.02 213.13,380.07 228.6,372.89 244.07,398.02 259.54,383.66 275.01,380.07 290.48,376.48 305.95,394.43 321.42,451.87 336.89,444.69 352.36,455.46 367.83,433.92 383.3,433.92 398.77,451.87" fill="none" stroke="#F86A6C" stroke-width="1.5" stroke-linejoin="round"/>
<circle cx="89.37" cy="505.72" r="4" fill="#EE4248"/>
<circle cx="88.37" cy="504.64" r="2.4" fill="url(#grh)"/>
<circle cx="104.84" cy="502.13" r="4" fill="#EE4248"/>
<circle cx="103.84" cy="501.05" r="2.4" fill="url(#grh)"/>
<circle cx="120.31" cy="498.54" r="4" fill="#EE4248"/>
<circle cx="119.31" cy="497.46" r="2.4" fill="url(#grh)"/>
<circle cx="135.78" cy="469.82" r="4" fill="#EE4248"/>
<circle cx="134.78" cy="468.74" r="2.4" fill="url(#grh)"/>
<circle cx="151.25" cy="466.23" r="4" fill="#EE4248"/>
<circle cx="150.25" cy="465.15" r="2.4" fill="url(#grh)"/>
<circle cx="166.72" cy="415.97" r="4" fill="#EE4248"/>
<circle cx="165.72" cy="414.89" r="2.4" fill="url(#grh)"/>
<circle cx="182.19" cy="408.79" r="4" fill="#EE4248"/>
<circle cx="181.19" cy="407.71" r="2.4" fill="url(#grh)"/>
<circle cx="197.66" cy="398.02" r="4" fill="#EE4248"/>
<circle cx="196.66" cy="396.94" r="2.4" fill="url(#grh)"/>
<circle cx="213.13" cy="380.07" r="4" fill="#EE4248"/>
<circle cx="212.13" cy="378.99" r="2.4" fill="url(#grh)"/>
<circle cx="228.6" cy="372.89" r="4" fill="#EE4248"/>
<circle cx="227.6" cy="371.81" r="2.4" fill="url(#grh)"/>
<circle cx="244.07" cy="398.02" r="4" fill="#EE4248"/>
<circle cx="243.07" cy="396.94" r="2.4" fill="url(#grh)"/>
<circle cx="259.54" cy="383.66" r="4" fill="#EE4248"/>
<circle cx="258.54" cy="382.58" r="2.4" fill="url(#grh)"/>
<circle cx="275.01" cy="380.07" r="4" fill="#EE4248"/>
<circle cx="274.01" cy="378.99" r="2.4" fill="url(#grh)"/>
<circle cx="290.48" cy="376.48" r="4" fill="#EE4248"/>
<circle cx="289.48" cy="375.4" r="2.4" fill="url(#grh)"/>
<circle cx="305.95" cy="394.43" r="4" fill="#EE4248"/>
<circle cx="304.95" cy="393.35" r="2.4" fill="url(#grh)"/>
<circle cx="321.42" cy="451.87" r="4" fill="#EE4248"/>
<circle cx="320.42" cy="450.79" r="2.4" fill="url(#grh)"/>
<circle cx="336.89" cy="444.69" r="4" fill="#EE4248"/>
<circle cx="335.89" cy="443.61" r="2.4" fill="url(#grh)"/>
<circle cx="352.36" cy="455.46" r="4" fill="#EE4248"/>
<circle cx="351.36" cy="454.38" r="2.4" fill="url(#grh)"/>
<circle cx="367.83" cy="433.92" r="4" fill="#EE4248"/>
<circle cx="366.83" cy="432.84" r="2.4" fill="url(#grh)"/>
<circle cx="383.3" cy="433.92" r="4" fill="#EE4248"/>
<circle cx="382.3" cy="432.84" r="2.4" fill="url(#grh)"/>
<circle cx="398.77" cy="451.87" r="4" fill="#EE4248"/>
<circle cx="397.77" cy="450.79" r="2.4" fill="url(#grh)"/>
<path d="M104.84 503.9V521.9M102.04 503.9H107.64M102.04 521.9H107.64" stroke="#6AAA14" stroke-width="0.85" stroke-opacity="0.5" fill="none"/>
<path d="M120.31 498.13V506.13M117.51 498.13H123.11M117.51 506.13H123.11" stroke="#6AAA14" stroke-width="0.85" stroke-opacity="0.5" fill="none"/>
<path d="M135.78 479.54V517.54M132.98 479.54H138.58M132.98 517.54H138.58" stroke="#6AAA14" stroke-width="0.85" stroke-opacity="0.5" fill="none"/>
<path d="M151.25 480.54V516.54M148.45 480.54H154.05M148.45 516.54H154.05" stroke="#6AAA14" stroke-width="0.85" stroke-opacity="0.5" fill="none"/>
<path d="M166.72 475.59V485.59M163.92 475.59H169.52M163.92 485.59H169.52" stroke="#6AAA14" stroke-width="0.85" stroke-opacity="0.5" fill="none"/>
<path d="M182.19 455.05V463.05M179.39 455.05H184.99M179.39 463.05H184.99" stroke="#6AAA14" stroke-width="0.85" stroke-opacity="0.5" fill="none"/>
<path d="M197.66 459.82V479.82M194.86 459.82H200.46M194.86 479.82H200.46" stroke="#6AAA14" stroke-width="0.85" stroke-opacity="0.5" fill="none"/>
<path d="M213.13 423.69V465.69M210.33 423.69H215.93M210.33 465.69H215.93" stroke="#6AAA14" stroke-width="0.85" stroke-opacity="0.5" fill="none"/>
<path d="M228.6 411.51V463.51M225.8 411.51H231.4M225.8 463.51H231.4" stroke="#6AAA14" stroke-width="0.85" stroke-opacity="0.5" fill="none"/>
<path d="M244.07 424.69V464.69M241.27 424.69H246.87M241.27 464.69H246.87" stroke="#6AAA14" stroke-width="0.85" stroke-opacity="0.5" fill="none"/>
<path d="M259.54 443.28V453.28M256.74 443.28H262.34M256.74 453.28H262.34" stroke="#6AAA14" stroke-width="0.85" stroke-opacity="0.5" fill="none"/>
<path d="M275.01 431.51V443.51M272.21 431.51H277.81M272.21 443.51H277.81" stroke="#6AAA14" stroke-width="0.85" stroke-opacity="0.5" fill="none"/>
<path d="M290.48 408.97V422.97M287.68 408.97H293.28M287.68 422.97H293.28" stroke="#6AAA14" stroke-width="0.85" stroke-opacity="0.5" fill="none"/>
<path d="M305.95 422.74V430.74M303.15 422.74H308.75M303.15 430.74H308.75" stroke="#6AAA14" stroke-width="0.85" stroke-opacity="0.5" fill="none"/>
<path d="M321.42 410.56V428.56M318.62 410.56H324.22M318.62 428.56H324.22" stroke="#6AAA14" stroke-width="0.85" stroke-opacity="0.5" fill="none"/>
<path d="M336.89 436.1V446.1M334.09 436.1H339.69M334.09 446.1H339.69" stroke="#6AAA14" stroke-width="0.85" stroke-opacity="0.5" fill="none"/>
<path d="M352.36 383.74V469.74M349.56 383.74H355.16M349.56 469.74H355.16" stroke="#6AAA14" stroke-width="0.85" stroke-opacity="0.5" fill="none"/>
<path d="M367.83 446.87V456.87M365.03 446.87H370.63M365.03 456.87H370.63" stroke="#6AAA14" stroke-width="0.85" stroke-opacity="0.5" fill="none"/>
<path d="M383.3 422.33V438.33M380.5 422.33H386.1M380.5 438.33H386.1" stroke="#6AAA14" stroke-width="0.85" stroke-opacity="0.5" fill="none"/>
<path d="M398.77 439.69V449.69M395.97 439.69H401.57M395.97 449.69H401.57" stroke="#6AAA14" stroke-width="0.85" stroke-opacity="0.5" fill="none"/>
<polyline points="89.37,548.8 104.84,512.9 120.31,502.13 135.78,498.54 151.25,498.54 166.72,480.59 182.19,459.05 197.66,469.82 213.13,444.69 228.6,437.51 244.07,444.69 259.54,448.28 275.01,437.51 290.48,415.97 305.95,426.74 321.42,419.56 336.89,441.1 352.36,426.74 367.83,451.87 383.3,430.33 398.77,444.69" fill="none" stroke="#6EAE1E" stroke-width="1.5" stroke-linejoin="round"/>
<circle cx="89.37" cy="548.8" r="4" fill="#6AAA14"/>
<circle cx="88.37" cy="547.72" r="2.4" fill="url(#ggh)"/>
<circle cx="104.84" cy="512.9" r="4" fill="#6AAA14"/>
<circle cx="103.84" cy="511.82" r="2.4" fill="url(#ggh)"/>
<circle cx="120.31" cy="502.13" r="4" fill="#6AAA14"/>
<circle cx="119.31" cy="501.05" r="2.4" fill="url(#ggh)"/>
<circle cx="135.78" cy="498.54" r="4" fill="#6AAA14"/>
<circle cx="134.78" cy="497.46" r="2.4" fill="url(#ggh)"/>
<circle cx="151.25" cy="498.54" r="4" fill="#6AAA14"/>
<circle cx="150.25" cy="497.46" r="2.4" fill="url(#ggh)"/>
<circle cx="166.72" cy="480.59" r="4" fill="#6AAA14"/>
<circle cx="165.72" cy="479.51" r="2.4" fill="url(#ggh)"/>
<circle cx="182.19" cy="459.05" r="4" fill="#6AAA14"/>
<circle cx="181.19" cy="457.97" r="2.4" fill="url(#ggh)"/>
<circle cx="197.66" cy="469.82" r="4" fill="#6AAA14"/>
<circle cx="196.66" cy="468.74" r="2.4" fill="url(#ggh)"/>
<circle cx="213.13" cy="444.69" r="4" fill="#6AAA14"/>
<circle cx="212.13" cy="443.61" r="2.4" fill="url(#ggh)"/>
<circle cx="228.6" cy="437.51" r="4" fill="#6AAA14"/>
<circle cx="227.6" cy="436.43" r="2.4" fill="url(#ggh)"/>
<circle cx="244.07" cy="444.69" r="4" fill="#6AAA14"/>
<circle cx="243.07" cy="443.61" r="2.4" fill="url(#ggh)"/>
<circle cx="259.54" cy="448.28" r="4" fill="#6AAA14"/>
<circle cx="258.54" cy="447.2" r="2.4" fill="url(#ggh)"/>
<circle cx="275.01" cy="437.51" r="4" fill="#6AAA14"/>
<circle cx="274.01" cy="436.43" r="2.4" fill="url(#ggh)"/>
<circle cx="290.48" cy="415.97" r="4" fill="#6AAA14"/>
<circle cx="289.48" cy="414.89" r="2.4" fill="url(#ggh)"/>
<circle cx="305.95" cy="426.74" r="4" fill="#6AAA14"/>
<circle cx="304.95" cy="425.66" r="2.4" fill="url(#ggh)"/>
<circle cx="321.42" cy="419.56" r="4" fill="#6AAA14"/>
<circle cx="320.42" cy="418.48" r="2.4" fill="url(#ggh)"/>
<circle cx="336.89" cy="441.1" r="4" fill="#6AAA14"/>
<circle cx="335.89" cy="440.02" r="2.4" fill="url(#ggh)"/>
<circle cx="352.36" cy="426.74" r="4" fill="#6AAA14"/>
<circle cx="351.36" cy="425.66" r="2.4" fill="url(#ggh)"/>
<circle cx="367.83" cy="451.87" r="4" fill="#6AAA14"/>
<circle cx="366.83" cy="450.79" r="2.4" fill="url(#ggh)"/>
<circle cx="383.3" cy="430.33" r="4" fill="#6AAA14"/>
<circle cx="382.3" cy="429.25" r="2.4" fill="url(#ggh)"/>
<circle cx="398.77" cy="444.69" r="4" fill="#6AAA14"/>
<circle cx="397.77" cy="443.61" r="2.4" fill="url(#ggh)"/>
<path d="M89.37 369.24V412.44M86.57 369.24H92.17M86.57 412.44H92.17" stroke="#1a1a1a" stroke-width="0.85" stroke-opacity="0.5" fill="none"/>
<path d="M104.84 368.63V420.23M102.04 368.63H107.64M102.04 420.23H107.64" stroke="#1a1a1a" stroke-width="0.85" stroke-opacity="0.5" fill="none"/>
<path d="M120.31 391.4V419M117.51 391.4H123.11M117.51 419H123.11" stroke="#1a1a1a" stroke-width="0.85" stroke-opacity="0.5" fill="none"/>
<path d="M135.78 404.97V426.97M132.98 404.97H138.58M132.98 426.97H138.58" stroke="#1a1a1a" stroke-width="0.85" stroke-opacity="0.5" fill="none"/>
<path d="M151.25 449.46V461.46M148.45 449.46H154.05M148.45 461.46H154.05" stroke="#1a1a1a" stroke-width="0.85" stroke-opacity="0.5" fill="none"/>
<path d="M166.72 441.06V469.86M163.92 441.06H169.52M163.92 469.86H169.52" stroke="#1a1a1a" stroke-width="0.85" stroke-opacity="0.5" fill="none"/>
<path d="M182.19 452.05V466.05M179.39 452.05H184.99M179.39 466.05H184.99" stroke="#1a1a1a" stroke-width="0.85" stroke-opacity="0.5" fill="none"/>
<path d="M197.66 414.87V488.87M194.86 414.87H200.46M194.86 488.87H200.46" stroke="#1a1a1a" stroke-width="0.85" stroke-opacity="0.5" fill="none"/>
<path d="M213.13 438.46V472.46M210.33 438.46H215.93M210.33 472.46H215.93" stroke="#1a1a1a" stroke-width="0.85" stroke-opacity="0.5" fill="none"/>
<path d="M228.6 456.23V476.23M225.8 456.23H231.4M225.8 476.23H231.4" stroke="#1a1a1a" stroke-width="0.85" stroke-opacity="0.5" fill="none"/>
<path d="M244.07 424.58V471.98M241.27 424.58H246.87M241.27 471.98H246.87" stroke="#1a1a1a" stroke-width="0.85" stroke-opacity="0.5" fill="none"/>
<path d="M259.54 462.59V498.59M256.74 462.59H262.34M256.74 498.59H262.34" stroke="#1a1a1a" stroke-width="0.85" stroke-opacity="0.5" fill="none"/>
<path d="M275.01 417.51V457.51M272.21 417.51H277.81M272.21 457.51H277.81" stroke="#1a1a1a" stroke-width="0.85" stroke-opacity="0.5" fill="none"/>
<path d="M290.48 428.28V468.28M287.68 428.28H293.28M287.68 468.28H293.28" stroke="#1a1a1a" stroke-width="0.85" stroke-opacity="0.5" fill="none"/>
<path d="M305.95 494.72V516.72M303.15 494.72H308.75M303.15 516.72H308.75" stroke="#1a1a1a" stroke-width="0.85" stroke-opacity="0.5" fill="none"/>
<path d="M321.42 419.28V477.28M318.62 419.28H324.22M318.62 477.28H324.22" stroke="#1a1a1a" stroke-width="0.85" stroke-opacity="0.5" fill="none"/>
<path d="M336.89 512.08V528.08M334.09 512.08H339.69M334.09 528.08H339.69" stroke="#1a1a1a" stroke-width="0.85" stroke-opacity="0.5" fill="none"/>
<path d="M352.36 404.74V448.74M349.56 404.74H355.16M349.56 448.74H355.16" stroke="#1a1a1a" stroke-width="0.85" stroke-opacity="0.5" fill="none"/>
<path d="M367.83 448.46V462.46M365.03 448.46H370.63M365.03 462.46H370.63" stroke="#1a1a1a" stroke-width="0.85" stroke-opacity="0.5" fill="none"/>
<path d="M383.3 428.92V438.92M380.5 428.92H386.1M380.5 438.92H386.1" stroke="#1a1a1a" stroke-width="0.85" stroke-opacity="0.5" fill="none"/>
<path d="M398.77 431.28V465.28M395.97 431.28H401.57M395.97 465.28H401.57" stroke="#1a1a1a" stroke-width="0.85" stroke-opacity="0.5" fill="none"/>
<polyline points="89.37,390.84 104.84,394.43 120.31,405.2 135.78,415.97 151.25,455.46 166.72,455.46 182.19,459.05 197.66,451.87 213.13,455.46 228.6,466.23 244.07,448.28 259.54,480.59 275.01,437.51 290.48,448.28 305.95,505.72 321.42,448.28 336.89,520.08 352.36,426.74 367.83,455.46 383.3,433.92 398.77,448.28" fill="none" stroke="#1a1a1a" stroke-width="1.5" stroke-linejoin="round"/>
<circle cx="89.37" cy="390.84" r="3.6" fill="none" stroke="#222" stroke-width="0.9"/>
<circle cx="104.84" cy="394.43" r="3.6" fill="none" stroke="#222" stroke-width="0.9"/>
<circle cx="120.31" cy="405.2" r="3.6" fill="none" stroke="#222" stroke-width="0.9"/>
<circle cx="135.78" cy="415.97" r="3.6" fill="none" stroke="#222" stroke-width="0.9"/>
<circle cx="151.25" cy="455.46" r="3.6" fill="none" stroke="#222" stroke-width="0.9"/>
<circle cx="166.72" cy="455.46" r="3.6" fill="none" stroke="#222" stroke-width="0.9"/>
<circle cx="182.19" cy="459.05" r="3.6" fill="none" stroke="#222" stroke-width="0.9"/>
<circle cx="197.66" cy="451.87" r="3.6" fill="none" stroke="#222" stroke-width="0.9"/>
<circle cx="213.13" cy="455.46" r="3.6" fill="none" stroke="#222" stroke-width="0.9"/>
<circle cx="228.6" cy="466.23" r="3.6" fill="none" stroke="#222" stroke-width="0.9"/>
<circle cx="244.07" cy="448.28" r="3.6" fill="none" stroke="#222" stroke-width="0.9"/>
<circle cx="259.54" cy="480.59" r="3.6" fill="none" stroke="#222" stroke-width="0.9"/>
<circle cx="275.01" cy="437.51" r="3.6" fill="none" stroke="#222" stroke-width="0.9"/>
<circle cx="290.48" cy="448.28" r="3.6" fill="none" stroke="#222" stroke-width="0.9"/>
<circle cx="305.95" cy="505.72" r="3.6" fill="none" stroke="#222" stroke-width="0.9"/>
<circle cx="321.42" cy="448.28" r="3.6" fill="none" stroke="#222" stroke-width="0.9"/>
<circle cx="336.89" cy="520.08" r="3.6" fill="none" stroke="#222" stroke-width="0.9"/>
<circle cx="352.36" cy="426.74" r="3.6" fill="none" stroke="#222" stroke-width="0.9"/>
<circle cx="367.83" cy="455.46" r="3.6" fill="none" stroke="#222" stroke-width="0.9"/>
<circle cx="383.3" cy="433.92" r="3.6" fill="none" stroke="#222" stroke-width="0.9"/>
<circle cx="398.77" cy="448.28" r="3.6" fill="none" stroke="#222" stroke-width="0.9"/>
<path d="M89.37 579.11V583.11M86.57 579.11H92.17M86.57 583.11H92.17" stroke="#0B4A7A" stroke-width="0.8" stroke-opacity="0.5" fill="none"/>
<path d="M104.84 565.52V589.52M102.04 565.52H107.64M102.04 589.52H107.64" stroke="#0B4A7A" stroke-width="0.8" stroke-opacity="0.5" fill="none"/>
<path d="M120.31 572.52V582.52M117.51 572.52H123.11M117.51 582.52H123.11" stroke="#0B4A7A" stroke-width="0.8" stroke-opacity="0.5" fill="none"/>
<path d="M135.78 568.13V576.13M132.98 568.13H138.58M132.98 576.13H138.58" stroke="#0B4A7A" stroke-width="0.8" stroke-opacity="0.5" fill="none"/>
<path d="M151.25 601.24V611.24M148.45 601.24H154.05M148.45 611.24H154.05" stroke="#0B4A7A" stroke-width="0.8" stroke-opacity="0.5" fill="none"/>
<path d="M213.13 592.47V598.47M210.33 592.47H215.93M210.33 598.47H215.93" stroke="#0B4A7A" stroke-width="0.8" stroke-opacity="0.5" fill="none"/>
<path d="M228.6 581.7V587.7M225.8 581.7H231.4M225.8 587.7H231.4" stroke="#0B4A7A" stroke-width="0.8" stroke-opacity="0.5" fill="none"/>
<path d="M244.07 587.47V603.47M241.27 587.47H246.87M241.27 603.47H246.87" stroke="#0B4A7A" stroke-width="0.8" stroke-opacity="0.5" fill="none"/>
<path d="M290.48 592.47V598.47M287.68 592.47H293.28M287.68 598.47H293.28" stroke="#0B4A7A" stroke-width="0.8" stroke-opacity="0.5" fill="none"/>
<path d="M336.89 591.06V607.06M334.09 591.06H339.69M334.09 607.06H339.69" stroke="#0B4A7A" stroke-width="0.8" stroke-opacity="0.5" fill="none"/>
<path d="M367.83 592.47V598.47M365.03 592.47H370.63M365.03 598.47H370.63" stroke="#0B4A7A" stroke-width="0.8" stroke-opacity="0.5" fill="none"/>
<path d="M383.3 580.29V596.29M380.5 580.29H386.1M380.5 596.29H386.1" stroke="#0B4A7A" stroke-width="0.8" stroke-opacity="0.5" fill="none"/>
<path d="M398.77 583.88V599.88M395.97 583.88H401.57M395.97 599.88H401.57" stroke="#0B4A7A" stroke-width="0.8" stroke-opacity="0.5" fill="none"/>
<path d="M305.95 585.88V597.88M303.15 585.88H308.75M303.15 597.88H308.75" stroke="#0B4A7A" stroke-width="0.8" stroke-opacity="0.5" fill="none"/>
<polyline points="89.37,581.11 104.84,577.52 120.31,577.52 135.78,572.13 151.25,606.24 166.72,591.88 182.19,584.7 197.66,599.06 213.13,595.47 228.6,584.7 244.07,595.47 259.54,588.29 275.01,591.88 290.48,595.47 305.95,591.88 321.42,595.47 336.89,599.06 352.36,595.47 367.83,595.47 383.3,588.29 398.77,591.88" fill="none" stroke="#1A5A8C" stroke-width="1.4" stroke-linejoin="round" stroke-dasharray="6.5 4.5"/>
<circle cx="89.37" cy="581.11" r="3.6" fill="none" stroke="#1A5A8C" stroke-width="0.9"/>
<circle cx="104.84" cy="577.52" r="3.6" fill="none" stroke="#1A5A8C" stroke-width="0.9"/>
<circle cx="120.31" cy="577.52" r="3.6" fill="none" stroke="#1A5A8C" stroke-width="0.9"/>
<circle cx="135.78" cy="572.13" r="3.6" fill="none" stroke="#1A5A8C" stroke-width="0.9"/>
<circle cx="151.25" cy="606.24" r="3.6" fill="none" stroke="#1A5A8C" stroke-width="0.9"/>
<circle cx="166.72" cy="591.88" r="3.6" fill="none" stroke="#1A5A8C" stroke-width="0.9"/>
<circle cx="182.19" cy="584.7" r="3.6" fill="none" stroke="#1A5A8C" stroke-width="0.9"/>
<circle cx="197.66" cy="599.06" r="3.6" fill="none" stroke="#1A5A8C" stroke-width="0.9"/>
<circle cx="213.13" cy="595.47" r="3.6" fill="none" stroke="#1A5A8C" stroke-width="0.9"/>
<circle cx="228.6" cy="584.7" r="3.6" fill="none" stroke="#1A5A8C" stroke-width="0.9"/>
<circle cx="244.07" cy="595.47" r="3.6" fill="none" stroke="#1A5A8C" stroke-width="0.9"/>
<circle cx="259.54" cy="588.29" r="3.6" fill="none" stroke="#1A5A8C" stroke-width="0.9"/>
<circle cx="275.01" cy="591.88" r="3.6" fill="none" stroke="#1A5A8C" stroke-width="0.9"/>
<circle cx="290.48" cy="595.47" r="3.6" fill="none" stroke="#1A5A8C" stroke-width="0.9"/>
<circle cx="305.95" cy="591.88" r="3.6" fill="none" stroke="#1A5A8C" stroke-width="0.9"/>
<circle cx="321.42" cy="595.47" r="3.6" fill="none" stroke="#1A5A8C" stroke-width="0.9"/>
<circle cx="336.89" cy="599.06" r="3.6" fill="none" stroke="#1A5A8C" stroke-width="0.9"/>
<circle cx="352.36" cy="595.47" r="3.6" fill="none" stroke="#1A5A8C" stroke-width="0.9"/>
<circle cx="367.83" cy="595.47" r="3.6" fill="none" stroke="#1A5A8C" stroke-width="0.9"/>
<circle cx="383.3" cy="588.29" r="3.6" fill="none" stroke="#1A5A8C" stroke-width="0.9"/>
<circle cx="398.77" cy="591.88" r="3.6" fill="none" stroke="#1A5A8C" stroke-width="0.9"/>
<path d="M213.13 629.96V639.96M210.33 629.96H215.93M210.33 639.96H215.93" stroke="#EE4248" stroke-width="0.8" stroke-opacity="0.5" fill="none"/>
<path d="M244.07 628.37V634.37M241.27 628.37H246.87M241.27 634.37H246.87" stroke="#EE4248" stroke-width="0.8" stroke-opacity="0.5" fill="none"/>
<path d="M290.48 623.78V631.78M287.68 623.78H293.28M287.68 631.78H293.28" stroke="#EE4248" stroke-width="0.8" stroke-opacity="0.5" fill="none"/>
<path d="M321.42 623.78V631.78M318.62 623.78H324.22M318.62 631.78H324.22" stroke="#EE4248" stroke-width="0.8" stroke-opacity="0.5" fill="none"/>
<path d="M336.89 615.6V625.6M334.09 615.6H339.69M334.09 625.6H339.69" stroke="#EE4248" stroke-width="0.8" stroke-opacity="0.5" fill="none"/>
<path d="M383.3 610.42V616.42M380.5 610.42H386.1M380.5 616.42H386.1" stroke="#EE4248" stroke-width="0.8" stroke-opacity="0.5" fill="none"/>
<path d="M398.77 612.01V622.01M395.97 612.01H401.57M395.97 622.01H401.57" stroke="#EE4248" stroke-width="0.8" stroke-opacity="0.5" fill="none"/>
<path d="M104.84 632.96V636.96M102.04 632.96H107.64M102.04 636.96H107.64" stroke="#EE4248" stroke-width="0.8" stroke-opacity="0.5" fill="none"/>
<polyline points="89.37,638.55 104.84,634.96 120.31,638.55 135.78,634.96 151.25,631.37 166.72,638.55 182.19,638.55 197.66,638.55 213.13,634.96 228.6,638.55 244.07,631.37 259.54,634.96 275.01,631.37 290.48,627.78 305.95,634.96 321.42,627.78 336.89,620.6 352.36,627.78 367.83,620.6 383.3,613.42 398.77,617.01" fill="none" stroke="#F86A6C" stroke-width="1.4" stroke-linejoin="round" stroke-dasharray="6.5 4.5"/>
<circle cx="89.37" cy="638.55" r="3.6" fill="none" stroke="#F86A6C" stroke-width="0.9"/>
<circle cx="104.84" cy="634.96" r="3.6" fill="none" stroke="#F86A6C" stroke-width="0.9"/>
<circle cx="120.31" cy="638.55" r="3.6" fill="none" stroke="#F86A6C" stroke-width="0.9"/>
<circle cx="135.78" cy="634.96" r="3.6" fill="none" stroke="#F86A6C" stroke-width="0.9"/>
<circle cx="151.25" cy="631.37" r="3.6" fill="none" stroke="#F86A6C" stroke-width="0.9"/>
<circle cx="166.72" cy="638.55" r="3.6" fill="none" stroke="#F86A6C" stroke-width="0.9"/>
<circle cx="182.19" cy="638.55" r="3.6" fill="none" stroke="#F86A6C" stroke-width="0.9"/>
<circle cx="197.66" cy="638.55" r="3.6" fill="none" stroke="#F86A6C" stroke-width="0.9"/>
<circle cx="213.13" cy="634.96" r="3.6" fill="none" stroke="#F86A6C" stroke-width="0.9"/>
<circle cx="228.6" cy="638.55" r="3.6" fill="none" stroke="#F86A6C" stroke-width="0.9"/>
<circle cx="244.07" cy="631.37" r="3.6" fill="none" stroke="#F86A6C" stroke-width="0.9"/>
<circle cx="259.54" cy="634.96" r="3.6" fill="none" stroke="#F86A6C" stroke-width="0.9"/>
<circle cx="275.01" cy="631.37" r="3.6" fill="none" stroke="#F86A6C" stroke-width="0.9"/>
<circle cx="290.48" cy="627.78" r="3.6" fill="none" stroke="#F86A6C" stroke-width="0.9"/>
<circle cx="305.95" cy="634.96" r="3.6" fill="none" stroke="#F86A6C" stroke-width="0.9"/>
<circle cx="321.42" cy="627.78" r="3.6" fill="none" stroke="#F86A6C" stroke-width="0.9"/>
<circle cx="336.89" cy="620.6" r="3.6" fill="none" stroke="#F86A6C" stroke-width="0.9"/>
<circle cx="352.36" cy="627.78" r="3.6" fill="none" stroke="#F86A6C" stroke-width="0.9"/>
<circle cx="367.83" cy="620.6" r="3.6" fill="none" stroke="#F86A6C" stroke-width="0.9"/>
<circle cx="383.3" cy="613.42" r="3.6" fill="none" stroke="#F86A6C" stroke-width="0.9"/>
<circle cx="398.77" cy="617.01" r="3.6" fill="none" stroke="#F86A6C" stroke-width="0.9"/>
<path d="M89.37 584.29V592.29M86.57 584.29H92.17M86.57 592.29H92.17" stroke="#6AAA14" stroke-width="0.8" stroke-opacity="0.5" fill="none"/>
<path d="M104.84 593.06V605.06M102.04 593.06H107.64M102.04 605.06H107.64" stroke="#6AAA14" stroke-width="0.8" stroke-opacity="0.5" fill="none"/>
<path d="M135.78 593.06V605.06M132.98 593.06H138.58M132.98 605.06H138.58" stroke="#6AAA14" stroke-width="0.8" stroke-opacity="0.5" fill="none"/>
<path d="M151.25 603.24V609.24M148.45 603.24H154.05M148.45 609.24H154.05" stroke="#6AAA14" stroke-width="0.8" stroke-opacity="0.5" fill="none"/>
<path d="M166.72 604.42V622.42M163.92 604.42H169.52M163.92 622.42H169.52" stroke="#6AAA14" stroke-width="0.8" stroke-opacity="0.5" fill="none"/>
<path d="M182.19 608.6V632.6M179.39 608.6H184.99M179.39 632.6H184.99" stroke="#6AAA14" stroke-width="0.8" stroke-opacity="0.5" fill="none"/>
<path d="M197.66 615.19V633.19M194.86 615.19H200.46M194.86 633.19H200.46" stroke="#6AAA14" stroke-width="0.8" stroke-opacity="0.5" fill="none"/>
<path d="M213.13 614.01V620.01M210.33 614.01H215.93M210.33 620.01H215.93" stroke="#6AAA14" stroke-width="0.8" stroke-opacity="0.5" fill="none"/>
<path d="M228.6 612.01V622.01M225.8 612.01H231.4M225.8 622.01H231.4" stroke="#6AAA14" stroke-width="0.8" stroke-opacity="0.5" fill="none"/>
<path d="M290.48 613.01V621.01M287.68 613.01H293.28M287.68 621.01H293.28" stroke="#6AAA14" stroke-width="0.8" stroke-opacity="0.5" fill="none"/>
<path d="M336.89 619.78V635.78M334.09 619.78H339.69M334.09 635.78H339.69" stroke="#6AAA14" stroke-width="0.8" stroke-opacity="0.5" fill="none"/>
<path d="M398.77 618.19V630.19M395.97 618.19H401.57M395.97 630.19H401.57" stroke="#6AAA14" stroke-width="0.8" stroke-opacity="0.5" fill="none"/>
<path d="M120.31 607.83V611.83M117.51 607.83H123.11M117.51 611.83H123.11" stroke="#6AAA14" stroke-width="0.8" stroke-opacity="0.5" fill="none"/>
<polyline points="89.37,588.29 104.84,599.06 120.31,609.83 135.78,599.06 151.25,606.24 166.72,613.42 182.19,620.6 197.66,624.19 213.13,617.01 228.6,617.01 244.07,627.78 259.54,627.78 275.01,624.19 290.48,617.01 305.95,627.78 321.42,624.19 336.89,627.78 352.36,631.37 367.83,627.78 383.3,624.19 398.77,624.19" fill="none" stroke="#6EAE1E" stroke-width="1.4" stroke-linejoin="round" stroke-dasharray="6.5 4.5"/>
<circle cx="89.37" cy="588.29" r="3.6" fill="none" stroke="#6EAE1E" stroke-width="0.9"/>
<circle cx="104.84" cy="599.06" r="3.6" fill="none" stroke="#6EAE1E" stroke-width="0.9"/>
<circle cx="120.31" cy="609.83" r="3.6" fill="none" stroke="#6EAE1E" stroke-width="0.9"/>
<circle cx="135.78" cy="599.06" r="3.6" fill="none" stroke="#6EAE1E" stroke-width="0.9"/>
<circle cx="151.25" cy="606.24" r="3.6" fill="none" stroke="#6EAE1E" stroke-width="0.9"/>
<circle cx="166.72" cy="613.42" r="3.6" fill="none" stroke="#6EAE1E" stroke-width="0.9"/>
<circle cx="182.19" cy="620.6" r="3.6" fill="none" stroke="#6EAE1E" stroke-width="0.9"/>
<circle cx="197.66" cy="624.19" r="3.6" fill="none" stroke="#6EAE1E" stroke-width="0.9"/>
<circle cx="213.13" cy="617.01" r="3.6" fill="none" stroke="#6EAE1E" stroke-width="0.9"/>
<circle cx="228.6" cy="617.01" r="3.6" fill="none" stroke="#6EAE1E" stroke-width="0.9"/>
<circle cx="244.07" cy="627.78" r="3.6" fill="none" stroke="#6EAE1E" stroke-width="0.9"/>
<circle cx="259.54" cy="627.78" r="3.6" fill="none" stroke="#6EAE1E" stroke-width="0.9"/>
<circle cx="275.01" cy="624.19" r="3.6" fill="none" stroke="#6EAE1E" stroke-width="0.9"/>
<circle cx="290.48" cy="617.01" r="3.6" fill="none" stroke="#6EAE1E" stroke-width="0.9"/>
<circle cx="305.95" cy="627.78" r="3.6" fill="none" stroke="#6EAE1E" stroke-width="0.9"/>
<circle cx="321.42" cy="624.19" r="3.6" fill="none" stroke="#6EAE1E" stroke-width="0.9"/>
<circle cx="336.89" cy="627.78" r="3.6" fill="none" stroke="#6EAE1E" stroke-width="0.9"/>
<circle cx="352.36" cy="631.37" r="3.6" fill="none" stroke="#6EAE1E" stroke-width="0.9"/>
<circle cx="367.83" cy="627.78" r="3.6" fill="none" stroke="#6EAE1E" stroke-width="0.9"/>
<circle cx="383.3" cy="624.19" r="3.6" fill="none" stroke="#6EAE1E" stroke-width="0.9"/>
<circle cx="398.77" cy="624.19" r="3.6" fill="none" stroke="#6EAE1E" stroke-width="0.9"/>
<path d="M89.37 532.44V536.44M86.57 532.44H92.17M86.57 536.44H92.17" stroke="#1a1a1a" stroke-width="0.8" stroke-opacity="0.5" fill="none"/>
<path d="M104.84 532.44V536.44M102.04 532.44H107.64M102.04 536.44H107.64" stroke="#1a1a1a" stroke-width="0.8" stroke-opacity="0.5" fill="none"/>
<path d="M135.78 536.62V546.62M132.98 536.62H138.58M132.98 546.62H138.58" stroke="#1a1a1a" stroke-width="0.8" stroke-opacity="0.5" fill="none"/>
<path d="M151.25 536.03V540.03M148.45 536.03H154.05M148.45 540.03H154.05" stroke="#1a1a1a" stroke-width="0.8" stroke-opacity="0.5" fill="none"/>
<path d="M166.72 556.57V562.57M163.92 556.57H169.52M163.92 562.57H169.52" stroke="#1a1a1a" stroke-width="0.8" stroke-opacity="0.5" fill="none"/>
<path d="M182.19 560.75V572.75M179.39 560.75H184.99M179.39 572.75H184.99" stroke="#1a1a1a" stroke-width="0.8" stroke-opacity="0.5" fill="none"/>
<path d="M197.66 566.93V580.93M194.86 566.93H200.46M194.86 580.93H200.46" stroke="#1a1a1a" stroke-width="0.8" stroke-opacity="0.5" fill="none"/>
<path d="M213.13 560.75V572.75M210.33 560.75H215.93M210.33 572.75H215.93" stroke="#1a1a1a" stroke-width="0.8" stroke-opacity="0.5" fill="none"/>
<path d="M228.6 568.34V572.34M225.8 568.34H231.4M225.8 572.34H231.4" stroke="#1a1a1a" stroke-width="0.8" stroke-opacity="0.5" fill="none"/>
<path d="M244.07 566.34V574.34M241.27 566.34H246.87M241.27 574.34H246.87" stroke="#1a1a1a" stroke-width="0.8" stroke-opacity="0.5" fill="none"/>
<path d="M259.54 568.34V572.34M256.74 568.34H262.34M256.74 572.34H262.34" stroke="#1a1a1a" stroke-width="0.8" stroke-opacity="0.5" fill="none"/>
<path d="M275.01 563.34V577.34M272.21 563.34H277.81M272.21 577.34H277.81" stroke="#1a1a1a" stroke-width="0.8" stroke-opacity="0.5" fill="none"/>
<path d="M290.48 572.11V590.11M287.68 572.11H293.28M287.68 590.11H293.28" stroke="#1a1a1a" stroke-width="0.8" stroke-opacity="0.5" fill="none"/>
<path d="M305.95 595.06V603.06M303.15 595.06H308.75M303.15 603.06H308.75" stroke="#1a1a1a" stroke-width="0.8" stroke-opacity="0.5" fill="none"/>
<path d="M321.42 581.7V587.7M318.62 581.7H324.22M318.62 587.7H324.22" stroke="#1a1a1a" stroke-width="0.8" stroke-opacity="0.5" fill="none"/>
<path d="M336.89 589.47V601.47M334.09 589.47H339.69M334.09 601.47H339.69" stroke="#1a1a1a" stroke-width="0.8" stroke-opacity="0.5" fill="none"/>
<path d="M352.36 576.11V586.11M349.56 576.11H355.16M349.56 586.11H355.16" stroke="#1a1a1a" stroke-width="0.8" stroke-opacity="0.5" fill="none"/>
<path d="M367.83 585.29V591.29M365.03 585.29H370.63M365.03 591.29H370.63" stroke="#1a1a1a" stroke-width="0.8" stroke-opacity="0.5" fill="none"/>
<path d="M383.3 580.7V588.7M380.5 580.7H386.1M380.5 588.7H386.1" stroke="#1a1a1a" stroke-width="0.8" stroke-opacity="0.5" fill="none"/>
<path d="M398.77 583.88V599.88M395.97 583.88H401.57M395.97 599.88H401.57" stroke="#1a1a1a" stroke-width="0.8" stroke-opacity="0.5" fill="none"/>
<polyline points="89.37,534.44 104.84,534.44 120.31,534.44 135.78,541.62 151.25,538.03 166.72,559.57 182.19,566.75 197.66,573.93 213.13,566.75 228.6,570.34 244.07,570.34 259.54,570.34 275.01,570.34 290.48,581.11 305.95,599.06 321.42,584.7 336.89,595.47 352.36,581.11 367.83,588.29 383.3,584.7 398.77,591.88" fill="none" stroke="#222" stroke-width="1.4" stroke-linejoin="round" stroke-dasharray="6.5 4.5"/>
<circle cx="89.37" cy="534.44" r="3.6" fill="#fff" stroke="#222" stroke-width="0.9"/>
<circle cx="104.84" cy="534.44" r="3.6" fill="#fff" stroke="#222" stroke-width="0.9"/>
<circle cx="120.31" cy="534.44" r="3.6" fill="#fff" stroke="#222" stroke-width="0.9"/>
<circle cx="135.78" cy="541.62" r="3.6" fill="#fff" stroke="#222" stroke-width="0.9"/>
<circle cx="151.25" cy="538.03" r="3.6" fill="#fff" stroke="#222" stroke-width="0.9"/>
<circle cx="166.72" cy="559.57" r="3.6" fill="#fff" stroke="#222" stroke-width="0.9"/>
<circle cx="182.19" cy="566.75" r="3.6" fill="#fff" stroke="#222" stroke-width="0.9"/>
<circle cx="197.66" cy="573.93" r="3.6" fill="#fff" stroke="#222" stroke-width="0.9"/>
<circle cx="213.13" cy="566.75" r="3.6" fill="#fff" stroke="#222" stroke-width="0.9"/>
<circle cx="228.6" cy="570.34" r="3.6" fill="#fff" stroke="#222" stroke-width="0.9"/>
<circle cx="244.07" cy="570.34" r="3.6" fill="#fff" stroke="#222" stroke-width="0.9"/>
<circle cx="259.54" cy="570.34" r="3.6" fill="#fff" stroke="#222" stroke-width="0.9"/>
<circle cx="275.01" cy="570.34" r="3.6" fill="#fff" stroke="#222" stroke-width="0.9"/>
<circle cx="290.48" cy="581.11" r="3.6" fill="#fff" stroke="#222" stroke-width="0.9"/>
<circle cx="305.95" cy="599.06" r="3.6" fill="#fff" stroke="#222" stroke-width="0.9"/>
<circle cx="321.42" cy="584.7" r="3.6" fill="#fff" stroke="#222" stroke-width="0.9"/>
<circle cx="336.89" cy="595.47" r="3.6" fill="#fff" stroke="#222" stroke-width="0.9"/>
<circle cx="352.36" cy="581.11" r="3.6" fill="#fff" stroke="#222" stroke-width="0.9"/>
<circle cx="367.83" cy="588.29" r="3.6" fill="#fff" stroke="#222" stroke-width="0.9"/>
<circle cx="383.3" cy="584.7" r="3.6" fill="#fff" stroke="#222" stroke-width="0.9"/>
<circle cx="398.77" cy="591.88" r="3.6" fill="#fff" stroke="#222" stroke-width="0.9"/>
<line x1="55.8" y1="656.4" x2="461.4" y2="656.4" stroke="#222" stroke-width="1.5"/>
<line x1="73.9" y1="656.4" x2="73.9" y2="662.7" stroke="#222" stroke-width="1.4"/>
<text x="74.2" y="678.6" font-family="Liberation Sans" font-weight="bold" font-size="14.4" text-anchor="middle" fill="#000">0</text>
<line x1="151.25" y1="656.4" x2="151.25" y2="662.7" stroke="#222" stroke-width="1.4"/>
<text x="151.55" y="678.6" font-family="Liberation Sans" font-weight="bold" font-size="14.4" text-anchor="middle" fill="#000">5</text>
<line x1="228.6" y1="656.4" x2="228.6" y2="662.7" stroke="#222" stroke-width="1.4"/>
<text x="228.9" y="678.6" font-family="Liberation Sans" font-weight="bold" font-size="14.4" text-anchor="middle" fill="#000">10</text>
<line x1="305.95" y1="656.4" x2="305.95" y2="662.7" stroke="#222" stroke-width="1.4"/>
<text x="306.25" y="678.6" font-family="Liberation Sans" font-weight="bold" font-size="14.4" text-anchor="middle" fill="#000">15</text>
<line x1="383.3" y1="656.4" x2="383.3" y2="662.7" stroke="#222" stroke-width="1.4"/>
<text x="383.6" y="678.6" font-family="Liberation Sans" font-weight="bold" font-size="14.4" text-anchor="middle" fill="#000">20</text>
<line x1="460.65" y1="656.4" x2="460.65" y2="662.7" stroke="#222" stroke-width="1.4"/>
<text x="460.95" y="678.6" font-family="Liberation Sans" font-weight="bold" font-size="14.4" text-anchor="middle" fill="#000">25</text>
<line x1="112.58" y1="656.4" x2="112.58" y2="659.5" stroke="#222" stroke-width="1.2"/>
<line x1="189.93" y1="656.4" x2="189.93" y2="659.5" stroke="#222" stroke-width="1.2"/>
<line x1="267.27" y1="656.4" x2="267.27" y2="659.5" stroke="#222" stroke-width="1.2"/>
<line x1="344.62" y1="656.4" x2="344.62" y2="659.5" stroke="#222" stroke-width="1.2"/>
<line x1="421.98" y1="656.4" x2="421.98" y2="659.5" stroke="#222" stroke-width="1.2"/>
<line x1="52" y1="620.6" x2="58.8" y2="620.6" stroke="#222" stroke-width="1.3"/>
<text x="48.1" y="624.3" font-family="Liberation Sans" font-weight="bold" font-size="14.4" text-anchor="end" fill="#000">0.2</text>
<line x1="55.2" y1="584.7" x2="58.8" y2="584.7" stroke="#222" stroke-width="1.1"/>
<line x1="52" y1="548.8" x2="58.8" y2="548.8" stroke="#222" stroke-width="1.3"/>
<text x="48.1" y="552.5" font-family="Liberation Sans" font-weight="bold" font-size="14.4" text-anchor="end" fill="#000">0.4</text>
<line x1="55.2" y1="512.9" x2="58.8" y2="512.9" stroke="#222" stroke-width="1.1"/>
<line x1="52" y1="477" x2="58.8" y2="477" stroke="#222" stroke-width="1.3"/>
<text x="48.1" y="480.7" font-family="Liberation Sans" font-weight="bold" font-size="14.4" text-anchor="end" fill="#000">0.6</text>
<line x1="55.2" y1="441.1" x2="58.8" y2="441.1" stroke="#222" stroke-width="1.1"/>
<line x1="52" y1="405.2" x2="58.8" y2="405.2" stroke="#222" stroke-width="1.3"/>
<text x="48.1" y="408.9" font-family="Liberation Sans" font-weight="bold" font-size="14.4" text-anchor="end" fill="#000">0.8</text>
<line x1="55.2" y1="369.3" x2="58.8" y2="369.3" stroke="#222" stroke-width="1.1"/>
<text x="65" y="357.7" font-family="Liberation Serif" font-weight="bold" font-size="24.5" textLength="30" lengthAdjust="spacingAndGlyphs" fill="#000">(b)</text>
<text x="21.6" y="539.3" font-family="Liberation Sans" font-weight="bold" font-size="18.2" textLength="88.8" lengthAdjust="spacingAndGlyphs" transform="rotate(-90 21.6 539.3)" fill="#000">Fe/P Ratios</text>
<text x="380.7" y="349" font-family="Liberation Sans" font-weight="bold" font-size="8.2" textLength="44.5" lengthAdjust="spacingAndGlyphs" fill="#000">Pore water</text>
<text x="425.4" y="351.7" font-family="Liberation Sans" font-weight="bold" font-size="4.6" textLength="21.5" lengthAdjust="spacingAndGlyphs" fill="#000">(2-3cm)</text>
<line x1="380" y1="360.3" x2="404.1" y2="360.3" stroke="#1A5A8C" stroke-width="1.4"/>
<circle cx="392.1" cy="360.3" r="4.1" fill="#0B4A7A"/>
<circle cx="391.08" cy="359.19" r="2.46" fill="url(#gbh)"/>
<text x="407" y="363.7" font-family="Liberation Sans" font-weight="bold" font-size="8.2" textLength="17.5" lengthAdjust="spacingAndGlyphs" fill="#000">NRB</text>
<line x1="380" y1="373.1" x2="404.1" y2="373.1" stroke="#F86A6C" stroke-width="1.4"/>
<circle cx="392.1" cy="373.1" r="4.1" fill="#EE4248"/>
<circle cx="391.08" cy="371.99" r="2.46" fill="url(#grh)"/>
<text x="407" y="376.5" font-family="Liberation Sans" font-weight="bold" font-size="8.2" textLength="19" lengthAdjust="spacingAndGlyphs" fill="#000">FeRB</text>
<line x1="380" y1="387.9" x2="404.1" y2="387.9" stroke="#6EAE1E" stroke-width="1.4"/>
<circle cx="392.1" cy="387.9" r="4.1" fill="#6AAA14"/>
<circle cx="391.08" cy="386.79" r="2.46" fill="url(#ggh)"/>
<text x="407" y="391.3" font-family="Liberation Sans" font-weight="bold" font-size="8.2" textLength="15.8" lengthAdjust="spacingAndGlyphs" fill="#000">SRB</text>
<line x1="380" y1="400.5" x2="404.1" y2="400.5" stroke="#333" stroke-width="1.4"/>
<circle cx="392.1" cy="400.5" r="3.7" fill="none" stroke="#222" stroke-width="0.9"/>
<text x="407" y="403.9" font-family="Liberation Sans" font-weight="bold" font-size="8.2" textLength="30.2" lengthAdjust="spacingAndGlyphs" fill="#000">Control</text>
<text x="427.4" y="378.3" font-family="Liberation Sans" font-weight="bold" font-size="5.2" textLength="6" lengthAdjust="spacingAndGlyphs" fill="#000">W</text>
<text x="380.7" y="507.3" font-family="Liberation Sans" font-weight="bold" font-size="8.2" textLength="44.5" lengthAdjust="spacingAndGlyphs" fill="#000">Pore water</text>
<text x="425.4" y="510" font-family="Liberation Sans" font-weight="bold" font-size="4.6" textLength="25" lengthAdjust="spacingAndGlyphs" fill="#000">(8-10cm)</text>
<line x1="380" y1="518.7" x2="386.3" y2="518.7" stroke="#1A5A8C" stroke-width="1.4"/>
<line x1="392.3" y1="518.7" x2="398.9" y2="518.7" stroke="#1A5A8C" stroke-width="1.4"/>
<circle cx="392.1" cy="518.7" r="3.7" fill="none" stroke="#1A5A8C" stroke-width="0.9"/>
<text x="407" y="522.1" font-family="Liberation Sans" font-weight="bold" font-size="8.2" textLength="17.5" lengthAdjust="spacingAndGlyphs" fill="#000">NRB</text>
<line x1="380" y1="531.4" x2="386.3" y2="531.4" stroke="#F86A6C" stroke-width="1.4"/>
<line x1="392.3" y1="531.4" x2="398.9" y2="531.4" stroke="#F86A6C" stroke-width="1.4"/>
<circle cx="392.1" cy="531.4" r="3.7" fill="none" stroke="#F86A6C" stroke-width="0.9"/>
<text x="407" y="534.8" font-family="Liberation Sans" font-weight="bold" font-size="8.2" textLength="19" lengthAdjust="spacingAndGlyphs" fill="#000">FeRB</text>
<line x1="380" y1="546.2" x2="386.3" y2="546.2" stroke="#6EAE1E" stroke-width="1.4"/>
<line x1="392.3" y1="546.2" x2="398.9" y2="546.2" stroke="#6EAE1E" stroke-width="1.4"/>
<circle cx="392.1" cy="546.2" r="3.7" fill="none" stroke="#6EAE1E" stroke-width="0.9"/>
<text x="407" y="549.6" font-family="Liberation Sans" font-weight="bold" font-size="8.2" textLength="15.8" lengthAdjust="spacingAndGlyphs" fill="#000">SRB</text>
<line x1="380" y1="558.8" x2="386.3" y2="558.8" stroke="#333" stroke-width="1.4"/>
<line x1="396.3" y1="558.8" x2="398.9" y2="558.8" stroke="#333" stroke-width="1.4"/>
<circle cx="392.1" cy="558.8" r="3.7" fill="#fff" stroke="#333" stroke-width="0.9"/>
<text x="407" y="562.2" font-family="Liberation Sans" font-weight="bold" font-size="8.2" textLength="30.2" lengthAdjust="spacingAndGlyphs" fill="#000">Control</text>
<text x="427.4" y="536.6" font-family="Liberation Sans" font-weight="bold" font-size="5.2" textLength="6" lengthAdjust="spacingAndGlyphs" fill="#000">W</text>
<path d="M710.46 329.92V370.26M704.16 329.92H716.76M704.16 370.26H716.76" stroke="#0B4A7A" stroke-width="1.1" stroke-opacity="0.55" fill="none"/>
<path d="M738.74 293.35V305.95M732.44 293.35H745.04M732.44 305.95H745.04" stroke="#0B4A7A" stroke-width="1.1" stroke-opacity="0.55" fill="none"/>
<path d="M795.3 287.04V312.25M789 287.04H801.6M789 312.25H801.6" stroke="#0B4A7A" stroke-width="1.1" stroke-opacity="0.55" fill="none"/>
<path d="M823.58 304.7V319.82M817.28 304.7H829.88M817.28 319.82H829.88" stroke="#0B4A7A" stroke-width="1.1" stroke-opacity="0.55" fill="none"/>
<path d="M851.86 251.74V271.9M845.56 251.74H858.16M845.56 271.9H858.16" stroke="#0B4A7A" stroke-width="1.1" stroke-opacity="0.55" fill="none"/>
<path d="M880.14 370.27V380.35M873.84 370.27H886.44M873.84 380.35H886.44" stroke="#0B4A7A" stroke-width="1.1" stroke-opacity="0.55" fill="none"/>
<path d="M908.42 352.62V398M902.12 352.62H914.72M902.12 398H914.72" stroke="#0B4A7A" stroke-width="1.1" stroke-opacity="0.55" fill="none"/>
<path d="M964.98 445.93V456.01M958.68 445.93H971.28M958.68 456.01H971.28" stroke="#0B4A7A" stroke-width="1.1" stroke-opacity="0.55" fill="none"/>
<polyline points="682.18,476.19 710.46,350.09 738.74,299.65 767.02,299.65 795.3,299.65 823.58,312.26 851.86,261.82 880.14,375.31 908.42,375.31 936.7,400.53 964.98,450.97 993.26,450.97 1021.54,438.36 1049.82,476.19 1078.1,476.19 1106.38,501.41 1134.66,526.63 1162.94,551.85 1191.22,564.46 1219.5,551.85 1247.78,564.46" fill="none" stroke="#1A5A8C" stroke-width="2.6" stroke-linejoin="round"/>
<circle cx="682.18" cy="476.19" r="7.7" fill="#0B4A7A"/>
<circle cx="680.25" cy="474.11" r="4.62" fill="url(#gbh)"/>
<circle cx="710.46" cy="350.09" r="7.7" fill="#0B4A7A"/>
<circle cx="708.54" cy="348.01" r="4.62" fill="url(#gbh)"/>
<circle cx="738.74" cy="299.65" r="7.7" fill="#0B4A7A"/>
<circle cx="736.82" cy="297.57" r="4.62" fill="url(#gbh)"/>
<circle cx="767.02" cy="299.65" r="7.7" fill="#0B4A7A"/>
<circle cx="765.1" cy="297.57" r="4.62" fill="url(#gbh)"/>
<circle cx="795.3" cy="299.65" r="7.7" fill="#0B4A7A"/>
<circle cx="793.38" cy="297.57" r="4.62" fill="url(#gbh)"/>
<circle cx="823.58" cy="312.26" r="7.7" fill="#0B4A7A"/>
<circle cx="821.65" cy="310.18" r="4.62" fill="url(#gbh)"/>
<circle cx="851.86" cy="261.82" r="7.7" fill="#0B4A7A"/>
<circle cx="849.94" cy="259.74" r="4.62" fill="url(#gbh)"/>
<circle cx="880.14" cy="375.31" r="7.7" fill="#0B4A7A"/>
<circle cx="878.22" cy="373.23" r="4.62" fill="url(#gbh)"/>
<circle cx="908.42" cy="375.31" r="7.7" fill="#0B4A7A"/>
<circle cx="906.5" cy="373.23" r="4.62" fill="url(#gbh)"/>
<circle cx="936.7" cy="400.53" r="7.7" fill="#0B4A7A"/>
<circle cx="934.78" cy="398.45" r="4.62" fill="url(#gbh)"/>
<circle cx="964.98" cy="450.97" r="7.7" fill="#0B4A7A"/>
<circle cx="963.06" cy="448.89" r="4.62" fill="url(#gbh)"/>
<circle cx="993.26" cy="450.97" r="7.7" fill="#0B4A7A"/>
<circle cx="991.34" cy="448.89" r="4.62" fill="url(#gbh)"/>
<circle cx="1021.54" cy="438.36" r="7.7" fill="#0B4A7A"/>
<circle cx="1019.62" cy="436.28" r="4.62" fill="url(#gbh)"/>
<circle cx="1049.82" cy="476.19" r="7.7" fill="#0B4A7A"/>
<circle cx="1047.89" cy="474.11" r="4.62" fill="url(#gbh)"/>
<circle cx="1078.1" cy="476.19" r="7.7" fill="#0B4A7A"/>
<circle cx="1076.17" cy="474.11" r="4.62" fill="url(#gbh)"/>
<circle cx="1106.38" cy="501.41" r="7.7" fill="#0B4A7A"/>
<circle cx="1104.46" cy="499.33" r="4.62" fill="url(#gbh)"/>
<circle cx="1134.66" cy="526.63" r="7.7" fill="#0B4A7A"/>
<circle cx="1132.73" cy="524.55" r="4.62" fill="url(#gbh)"/>
<circle cx="1162.94" cy="551.85" r="7.7" fill="#0B4A7A"/>
<circle cx="1161.02" cy="549.77" r="4.62" fill="url(#gbh)"/>
<circle cx="1191.22" cy="564.46" r="7.7" fill="#0B4A7A"/>
<circle cx="1189.3" cy="562.38" r="4.62" fill="url(#gbh)"/>
<circle cx="1219.5" cy="551.85" r="7.7" fill="#0B4A7A"/>
<circle cx="1217.58" cy="549.77" r="4.62" fill="url(#gbh)"/>
<circle cx="1247.78" cy="564.46" r="7.7" fill="#0B4A7A"/>
<circle cx="1245.86" cy="562.38" r="4.62" fill="url(#gbh)"/>
<path d="M682.18 178.6V193.72M675.88 178.6H688.48M675.88 193.72H688.48" stroke="#EE4248" stroke-width="1.1" stroke-opacity="0.55" fill="none"/>
<path d="M710.46 96.64V149.58M704.16 96.64H716.76M704.16 149.58H716.76" stroke="#EE4248" stroke-width="1.1" stroke-opacity="0.55" fill="none"/>
<path d="M738.74 84.03V136.97M732.44 84.03H745.04M732.44 136.97H745.04" stroke="#EE4248" stroke-width="1.1" stroke-opacity="0.55" fill="none"/>
<path d="M795.3 100.43V171.01M789 100.43H801.6M789 171.01H801.6" stroke="#EE4248" stroke-width="1.1" stroke-opacity="0.55" fill="none"/>
<path d="M823.58 165.99V181.11M817.28 165.99H829.88M817.28 181.11H829.88" stroke="#EE4248" stroke-width="1.1" stroke-opacity="0.55" fill="none"/>
<path d="M908.42 340.01V385.39M902.12 340.01H914.72M902.12 385.39H914.72" stroke="#EE4248" stroke-width="1.1" stroke-opacity="0.55" fill="none"/>
<path d="M964.98 413.14V438.36M958.68 413.14H971.28M958.68 438.36H971.28" stroke="#EE4248" stroke-width="1.1" stroke-opacity="0.55" fill="none"/>
<path d="M1021.54 483.76V493.84M1015.24 483.76H1027.84M1015.24 493.84H1027.84" stroke="#EE4248" stroke-width="1.1" stroke-opacity="0.55" fill="none"/>
<path d="M1049.82 469.89V482.49M1043.52 469.89H1056.12M1043.52 482.49H1056.12" stroke="#EE4248" stroke-width="1.1" stroke-opacity="0.55" fill="none"/>
<path d="M1162.94 584.64V594.72M1156.64 584.64H1169.24M1156.64 594.72H1169.24" stroke="#EE4248" stroke-width="1.1" stroke-opacity="0.55" fill="none"/>
<polyline points="682.18,186.16 710.46,123.11 738.74,110.5 767.02,34.84 795.3,135.72 823.58,173.55 851.86,299.65 880.14,362.7 908.42,362.7 936.7,387.92 964.98,425.75 993.26,476.19 1021.54,488.8 1049.82,476.19 1078.1,488.8 1106.38,564.46 1134.66,564.46 1162.94,589.68 1191.22,551.85 1219.5,564.46 1247.78,564.46" fill="none" stroke="#F86A6C" stroke-width="2.6" stroke-linejoin="round"/>
<circle cx="682.18" cy="186.16" r="7.7" fill="#EE4248"/>
<circle cx="680.25" cy="184.08" r="4.62" fill="url(#grh)"/>
<circle cx="710.46" cy="123.11" r="7.7" fill="#EE4248"/>
<circle cx="708.54" cy="121.03" r="4.62" fill="url(#grh)"/>
<circle cx="738.74" cy="110.5" r="7.7" fill="#EE4248"/>
<circle cx="736.82" cy="108.42" r="4.62" fill="url(#grh)"/>
<circle cx="767.02" cy="34.84" r="7.7" fill="#EE4248"/>
<circle cx="765.1" cy="32.76" r="4.62" fill="url(#grh)"/>
<circle cx="795.3" cy="135.72" r="7.7" fill="#EE4248"/>
<circle cx="793.38" cy="133.64" r="4.62" fill="url(#grh)"/>
<circle cx="823.58" cy="173.55" r="7.7" fill="#EE4248"/>
<circle cx="821.65" cy="171.47" r="4.62" fill="url(#grh)"/>
<circle cx="851.86" cy="299.65" r="7.7" fill="#EE4248"/>
<circle cx="849.94" cy="297.57" r="4.62" fill="url(#grh)"/>
<circle cx="880.14" cy="362.7" r="7.7" fill="#EE4248"/>
<circle cx="878.22" cy="360.62" r="4.62" fill="url(#grh)"/>
<circle cx="908.42" cy="362.7" r="7.7" fill="#EE4248"/>
<circle cx="906.5" cy="360.62" r="4.62" fill="url(#grh)"/>
<circle cx="936.7" cy="387.92" r="7.7" fill="#EE4248"/>
<circle cx="934.78" cy="385.84" r="4.62" fill="url(#grh)"/>
<circle cx="964.98" cy="425.75" r="7.7" fill="#EE4248"/>
<circle cx="963.06" cy="423.67" r="4.62" fill="url(#grh)"/>
<circle cx="993.26" cy="476.19" r="7.7" fill="#EE4248"/>
<circle cx="991.34" cy="474.11" r="4.62" fill="url(#grh)"/>
<circle cx="1021.54" cy="488.8" r="7.7" fill="#EE4248"/>
<circle cx="1019.62" cy="486.72" r="4.62" fill="url(#grh)"/>
<circle cx="1049.82" cy="476.19" r="7.7" fill="#EE4248"/>
<circle cx="1047.89" cy="474.11" r="4.62" fill="url(#grh)"/>
<circle cx="1078.1" cy="488.8" r="7.7" fill="#EE4248"/>
<circle cx="1076.17" cy="486.72" r="4.62" fill="url(#grh)"/>
<circle cx="1106.38" cy="564.46" r="7.7" fill="#EE4248"/>
<circle cx="1104.46" cy="562.38" r="4.62" fill="url(#grh)"/>
<circle cx="1134.66" cy="564.46" r="7.7" fill="#EE4248"/>
<circle cx="1132.73" cy="562.38" r="4.62" fill="url(#grh)"/>
<circle cx="1162.94" cy="589.68" r="7.7" fill="#EE4248"/>
<circle cx="1161.02" cy="587.6" r="4.62" fill="url(#grh)"/>
<circle cx="1191.22" cy="551.85" r="7.7" fill="#EE4248"/>
<circle cx="1189.3" cy="549.77" r="4.62" fill="url(#grh)"/>
<circle cx="1219.5" cy="564.46" r="7.7" fill="#EE4248"/>
<circle cx="1217.58" cy="562.38" r="4.62" fill="url(#grh)"/>
<circle cx="1247.78" cy="564.46" r="7.7" fill="#EE4248"/>
<circle cx="1245.86" cy="562.38" r="4.62" fill="url(#grh)"/>
<path d="M738.74 482.5V495.1M732.44 482.5H745.04M732.44 495.1H745.04" stroke="#6AAA14" stroke-width="1.1" stroke-opacity="0.55" fill="none"/>
<path d="M795.3 317.31V332.43M789 317.31H801.6M789 332.43H801.6" stroke="#6AAA14" stroke-width="1.1" stroke-opacity="0.55" fill="none"/>
<path d="M823.58 299.66V350.08M817.28 299.66H829.88M817.28 350.08H829.88" stroke="#6AAA14" stroke-width="1.1" stroke-opacity="0.55" fill="none"/>
<path d="M908.42 322.35V352.61M902.12 322.35H914.72M902.12 352.61H914.72" stroke="#6AAA14" stroke-width="1.1" stroke-opacity="0.55" fill="none"/>
<path d="M936.7 222.74V275.68M930.4 222.74H943M930.4 275.68H943" stroke="#6AAA14" stroke-width="1.1" stroke-opacity="0.55" fill="none"/>
<path d="M964.98 382.88V392.96M958.68 382.88H971.28M958.68 392.96H971.28" stroke="#6AAA14" stroke-width="1.1" stroke-opacity="0.55" fill="none"/>
<path d="M1134.66 559.42V569.5M1128.36 559.42H1140.96M1128.36 569.5H1140.96" stroke="#6AAA14" stroke-width="1.1" stroke-opacity="0.55" fill="none"/>
<polyline points="682.18,539.24 710.46,501.41 738.74,488.8 767.02,400.53 795.3,324.87 823.58,324.87 851.86,312.26 880.14,350.09 908.42,337.48 936.7,249.21 964.98,387.92 993.26,450.97 1021.54,476.19 1049.82,514.02 1078.1,539.24 1106.38,577.07 1134.66,564.46 1162.94,577.07 1191.22,564.46 1219.5,577.07 1247.78,589.68" fill="none" stroke="#6EAE1E" stroke-width="2.6" stroke-linejoin="round"/>
<circle cx="682.18" cy="539.24" r="7.7" fill="#6AAA14"/>
<circle cx="680.25" cy="537.16" r="4.62" fill="url(#ggh)"/>
<circle cx="710.46" cy="501.41" r="7.7" fill="#6AAA14"/>
<circle cx="708.54" cy="499.33" r="4.62" fill="url(#ggh)"/>
<circle cx="738.74" cy="488.8" r="7.7" fill="#6AAA14"/>
<circle cx="736.82" cy="486.72" r="4.62" fill="url(#ggh)"/>
<circle cx="767.02" cy="400.53" r="7.7" fill="#6AAA14"/>
<circle cx="765.1" cy="398.45" r="4.62" fill="url(#ggh)"/>
<circle cx="795.3" cy="324.87" r="7.7" fill="#6AAA14"/>
<circle cx="793.38" cy="322.79" r="4.62" fill="url(#ggh)"/>
<circle cx="823.58" cy="324.87" r="7.7" fill="#6AAA14"/>
<circle cx="821.65" cy="322.79" r="4.62" fill="url(#ggh)"/>
<circle cx="851.86" cy="312.26" r="7.7" fill="#6AAA14"/>
<circle cx="849.94" cy="310.18" r="4.62" fill="url(#ggh)"/>
<circle cx="880.14" cy="350.09" r="7.7" fill="#6AAA14"/>
<circle cx="878.22" cy="348.01" r="4.62" fill="url(#ggh)"/>
<circle cx="908.42" cy="337.48" r="7.7" fill="#6AAA14"/>
<circle cx="906.5" cy="335.4" r="4.62" fill="url(#ggh)"/>
<circle cx="936.7" cy="249.21" r="7.7" fill="#6AAA14"/>
<circle cx="934.78" cy="247.13" r="4.62" fill="url(#ggh)"/>
<circle cx="964.98" cy="387.92" r="7.7" fill="#6AAA14"/>
<circle cx="963.06" cy="385.84" r="4.62" fill="url(#ggh)"/>
<circle cx="993.26" cy="450.97" r="7.7" fill="#6AAA14"/>
<circle cx="991.34" cy="448.89" r="4.62" fill="url(#ggh)"/>
<circle cx="1021.54" cy="476.19" r="7.7" fill="#6AAA14"/>
<circle cx="1019.62" cy="474.11" r="4.62" fill="url(#ggh)"/>
<circle cx="1049.82" cy="514.02" r="7.7" fill="#6AAA14"/>
<circle cx="1047.89" cy="511.94" r="4.62" fill="url(#ggh)"/>
<circle cx="1078.1" cy="539.24" r="7.7" fill="#6AAA14"/>
<circle cx="1076.17" cy="537.16" r="4.62" fill="url(#ggh)"/>
<circle cx="1106.38" cy="577.07" r="7.7" fill="#6AAA14"/>
<circle cx="1104.46" cy="574.99" r="4.62" fill="url(#ggh)"/>
<circle cx="1134.66" cy="564.46" r="7.7" fill="#6AAA14"/>
<circle cx="1132.73" cy="562.38" r="4.62" fill="url(#ggh)"/>
<circle cx="1162.94" cy="577.07" r="7.7" fill="#6AAA14"/>
<circle cx="1161.02" cy="574.99" r="4.62" fill="url(#ggh)"/>
<circle cx="1191.22" cy="564.46" r="7.7" fill="#6AAA14"/>
<circle cx="1189.3" cy="562.38" r="4.62" fill="url(#ggh)"/>
<circle cx="1219.5" cy="577.07" r="7.7" fill="#6AAA14"/>
<circle cx="1217.58" cy="574.99" r="4.62" fill="url(#ggh)"/>
<circle cx="1247.78" cy="589.68" r="7.7" fill="#6AAA14"/>
<circle cx="1245.86" cy="587.6" r="4.62" fill="url(#ggh)"/>
<path d="M682.18 485.02V492.58M675.88 485.02H688.48M675.88 492.58H688.48" stroke="#111" stroke-width="1.1" stroke-opacity="0.9" fill="none"/>
<path d="M710.46 447.19V454.75M704.16 447.19H716.76M704.16 454.75H716.76" stroke="#111" stroke-width="1.1" stroke-opacity="0.9" fill="none"/>
<path d="M738.74 396.75V404.31M732.44 396.75H745.04M732.44 404.31H745.04" stroke="#111" stroke-width="1.1" stroke-opacity="0.9" fill="none"/>
<path d="M767.02 332.44V342.52M760.72 332.44H773.32M760.72 342.52H773.32" stroke="#111" stroke-width="1.1" stroke-opacity="0.9" fill="none"/>
<path d="M795.3 387.92V413.13M789 387.92H801.6M789 413.13H801.6" stroke="#111" stroke-width="1.1" stroke-opacity="0.9" fill="none"/>
<path d="M823.58 332.44V342.52M817.28 332.44H829.88M817.28 342.52H829.88" stroke="#111" stroke-width="1.1" stroke-opacity="0.9" fill="none"/>
<path d="M851.86 409.36V416.92M845.56 409.36H858.16M845.56 416.92H858.16" stroke="#111" stroke-width="1.1" stroke-opacity="0.9" fill="none"/>
<path d="M880.14 496.37V506.45M873.84 496.37H886.44M873.84 506.45H886.44" stroke="#111" stroke-width="1.1" stroke-opacity="0.9" fill="none"/>
<path d="M908.42 456.02V471.14M902.12 456.02H914.72M902.12 471.14H914.72" stroke="#111" stroke-width="1.1" stroke-opacity="0.9" fill="none"/>
<path d="M964.98 457.28V469.88M958.68 457.28H971.28M958.68 469.88H971.28" stroke="#111" stroke-width="1.1" stroke-opacity="0.9" fill="none"/>
<path d="M1021.54 522.85V530.41M1015.24 522.85H1027.84M1015.24 530.41H1027.84" stroke="#111" stroke-width="1.1" stroke-opacity="0.9" fill="none"/>
<path d="M1049.82 496.37V506.45M1043.52 496.37H1056.12M1043.52 506.45H1056.12" stroke="#111" stroke-width="1.1" stroke-opacity="0.9" fill="none"/>
<path d="M1078.1 522.85V530.41M1071.8 522.85H1084.4M1071.8 530.41H1084.4" stroke="#111" stroke-width="1.1" stroke-opacity="0.9" fill="none"/>
<path d="M1162.94 585.9V593.46M1156.64 585.9H1169.24M1156.64 593.46H1169.24" stroke="#111" stroke-width="1.1" stroke-opacity="0.9" fill="none"/>
<path d="M1247.78 522.85V530.41M1241.48 522.85H1254.08M1241.48 530.41H1254.08" stroke="#111" stroke-width="1.1" stroke-opacity="0.9" fill="none"/>
<polyline points="682.18,488.8 710.46,450.97 738.74,400.53 767.02,337.48 795.3,400.53 823.58,337.48 851.86,413.14 880.14,501.41 908.42,463.58 936.7,488.8 964.98,463.58 993.26,488.8 1021.54,526.63 1049.82,501.41 1078.1,526.63 1106.38,539.24 1134.66,551.85 1162.94,589.68 1191.22,564.46 1219.5,577.07 1247.78,526.63" fill="none" stroke="#1a1a1a" stroke-width="2.6" stroke-linejoin="round"/>
<circle cx="682.18" cy="488.8" r="7.1" fill="none" stroke="#111" stroke-width="1.1"/>
<circle cx="710.46" cy="450.97" r="7.1" fill="none" stroke="#111" stroke-width="1.1"/>
<circle cx="738.74" cy="400.53" r="7.1" fill="none" stroke="#111" stroke-width="1.1"/>
<circle cx="767.02" cy="337.48" r="7.1" fill="none" stroke="#111" stroke-width="1.1"/>
<circle cx="795.3" cy="400.53" r="7.1" fill="none" stroke="#111" stroke-width="1.1"/>
<circle cx="823.58" cy="337.48" r="7.1" fill="none" stroke="#111" stroke-width="1.1"/>
<circle cx="851.86" cy="413.14" r="7.1" fill="none" stroke="#111" stroke-width="1.1"/>
<circle cx="880.14" cy="501.41" r="7.1" fill="none" stroke="#111" stroke-width="1.1"/>
<circle cx="908.42" cy="463.58" r="7.1" fill="none" stroke="#111" stroke-width="1.1"/>
<circle cx="936.7" cy="488.8" r="7.1" fill="none" stroke="#111" stroke-width="1.1"/>
<circle cx="964.98" cy="463.58" r="7.1" fill="none" stroke="#111" stroke-width="1.1"/>
<circle cx="993.26" cy="488.8" r="7.1" fill="none" stroke="#111" stroke-width="1.1"/>
<circle cx="1021.54" cy="526.63" r="7.1" fill="none" stroke="#111" stroke-width="1.1"/>
<circle cx="1049.82" cy="501.41" r="7.1" fill="none" stroke="#111" stroke-width="1.1"/>
<circle cx="1078.1" cy="526.63" r="7.1" fill="none" stroke="#111" stroke-width="1.1"/>
<circle cx="1106.38" cy="539.24" r="7.1" fill="none" stroke="#111" stroke-width="1.1"/>
<circle cx="1134.66" cy="551.85" r="7.1" fill="none" stroke="#111" stroke-width="1.1"/>
<circle cx="1162.94" cy="589.68" r="7.1" fill="none" stroke="#111" stroke-width="1.1"/>
<circle cx="1191.22" cy="564.46" r="7.1" fill="none" stroke="#111" stroke-width="1.1"/>
<circle cx="1219.5" cy="577.07" r="7.1" fill="none" stroke="#111" stroke-width="1.1"/>
<circle cx="1247.78" cy="526.63" r="7.1" fill="none" stroke="#111" stroke-width="1.1"/>
<line x1="584.8" y1="362.6" x2="1356.2" y2="362.6" stroke="#FF0A0C" stroke-width="4.2" stroke-dasharray="24.4 22.25"/>
<line x1="583.4" y1="489" x2="1356.2" y2="489" stroke="#FF8200" stroke-width="4.2" stroke-dasharray="24.4 22.25"/>
<line x1="584.3" y1="554.2" x2="1356.2" y2="554.2" stroke="#1C9A1C" stroke-width="4.2" stroke-dasharray="24.4 22.25"/>
<rect x="583.2" y="15.9" width="777.8" height="611.8" fill="none" stroke="#111" stroke-width="2.2"/>
<line x1="653.9" y1="627.7" x2="653.9" y2="639.7" stroke="#111" stroke-width="2.2"/>
<text x="654.5" y="667.9" font-family="Liberation Sans" font-weight="bold" font-size="27.8" text-anchor="middle" fill="#000">0</text>
<line x1="795.3" y1="627.7" x2="795.3" y2="639.7" stroke="#111" stroke-width="2.2"/>
<text x="795.9" y="667.9" font-family="Liberation Sans" font-weight="bold" font-size="27.8" text-anchor="middle" fill="#000">5</text>
<line x1="936.7" y1="627.7" x2="936.7" y2="639.7" stroke="#111" stroke-width="2.2"/>
<text x="937.3" y="667.9" font-family="Liberation Sans" font-weight="bold" font-size="27.8" text-anchor="middle" fill="#000">10</text>
<line x1="1078.1" y1="627.7" x2="1078.1" y2="639.7" stroke="#111" stroke-width="2.2"/>
<text x="1078.7" y="667.9" font-family="Liberation Sans" font-weight="bold" font-size="27.8" text-anchor="middle" fill="#000">15</text>
<line x1="1219.5" y1="627.7" x2="1219.5" y2="639.7" stroke="#111" stroke-width="2.2"/>
<text x="1220.1" y="667.9" font-family="Liberation Sans" font-weight="bold" font-size="27.8" text-anchor="middle" fill="#000">20</text>
<line x1="1360.9" y1="627.7" x2="1360.9" y2="639.7" stroke="#111" stroke-width="2.2"/>
<text x="1361.5" y="667.9" font-family="Liberation Sans" font-weight="bold" font-size="27.8" text-anchor="middle" fill="#000">25</text>
<line x1="583.2" y1="627.7" x2="583.2" y2="633.7" stroke="#111" stroke-width="2.0"/>
<line x1="724.6" y1="627.7" x2="724.6" y2="633.7" stroke="#111" stroke-width="2.0"/>
<line x1="866" y1="627.7" x2="866" y2="633.7" stroke="#111" stroke-width="2.0"/>
<line x1="1007.4" y1="627.7" x2="1007.4" y2="633.7" stroke="#111" stroke-width="2.0"/>
<line x1="1148.8" y1="627.7" x2="1148.8" y2="633.7" stroke="#111" stroke-width="2.0"/>
<line x1="1290.2" y1="627.7" x2="1290.2" y2="633.7" stroke="#111" stroke-width="2.0"/>
<line x1="571.2" y1="614.9" x2="583.2" y2="614.9" stroke="#111" stroke-width="2.2"/>
<text x="562.8" y="621.9" font-family="Liberation Sans" font-weight="bold" font-size="27.4" text-anchor="end" fill="#000">0.0</text>
<line x1="577.2" y1="551.85" x2="583.2" y2="551.85" stroke="#111" stroke-width="2.0"/>
<line x1="571.2" y1="488.8" x2="583.2" y2="488.8" stroke="#111" stroke-width="2.2"/>
<text x="562.8" y="495.8" font-family="Liberation Sans" font-weight="bold" font-size="27.4" text-anchor="end" fill="#000">0.1</text>
<line x1="577.2" y1="425.75" x2="583.2" y2="425.75" stroke="#111" stroke-width="2.0"/>
<line x1="571.2" y1="362.7" x2="583.2" y2="362.7" stroke="#111" stroke-width="2.2"/>
<text x="562.8" y="369.7" font-family="Liberation Sans" font-weight="bold" font-size="27.4" text-anchor="end" fill="#000">0.2</text>
<line x1="577.2" y1="299.65" x2="583.2" y2="299.65" stroke="#111" stroke-width="2.0"/>
<line x1="571.2" y1="236.6" x2="583.2" y2="236.6" stroke="#111" stroke-width="2.2"/>
<text x="562.8" y="243.6" font-family="Liberation Sans" font-weight="bold" font-size="27.4" text-anchor="end" fill="#000">0.3</text>
<line x1="577.2" y1="173.55" x2="583.2" y2="173.55" stroke="#111" stroke-width="2.0"/>
<line x1="571.2" y1="110.5" x2="583.2" y2="110.5" stroke="#111" stroke-width="2.2"/>
<text x="562.8" y="117.5" font-family="Liberation Sans" font-weight="bold" font-size="27.4" text-anchor="end" fill="#000">0.4</text>
<line x1="577.2" y1="47.45" x2="583.2" y2="47.45" stroke="#111" stroke-width="2.0"/>
<text x="948.4" y="716.1" font-family="Liberation Sans" font-weight="bold" font-size="33" textLength="60" lengthAdjust="spacingAndGlyphs" fill="#000">Day</text>
<text x="509.6" y="511.3" font-family="Liberation Sans" font-weight="bold" font-size="33" textLength="377.5" lengthAdjust="spacingAndGlyphs" transform="rotate(-90 509.6 511.3)" fill="#000">TP concentrations (mg/L)</text>
<text x="606" y="50.9" font-family="Liberation Serif" font-weight="bold" font-size="35.5" textLength="39.5" lengthAdjust="spacingAndGlyphs" fill="#000">(c)</text>
<line x1="1108.5" y1="41.8" x2="1184" y2="41.8" stroke="#1A5A8C" stroke-width="2.3"/>
<circle cx="1145.9" cy="41.8" r="7.7" fill="#0B4A7A"/>
<circle cx="1143.98" cy="39.72" r="4.62" fill="url(#gbh)"/>
<text x="1191.2" y="52.65" font-family="Liberation Sans" font-weight="bold" font-size="27.5" textLength="112" lengthAdjust="spacingAndGlyphs" fill="#000">TP(NRB)</text>
<line x1="1108.5" y1="81.3" x2="1184" y2="81.3" stroke="#F86A6C" stroke-width="2.3"/>
<circle cx="1145.9" cy="81.3" r="7.7" fill="#EE4248"/>
<circle cx="1143.98" cy="79.22" r="4.62" fill="url(#grh)"/>
<text x="1191.2" y="92.5" font-family="Liberation Sans" font-weight="bold" font-size="27.5" textLength="109.5" lengthAdjust="spacingAndGlyphs" fill="#000">TP(FeRB</text>
<line x1="1108.5" y1="126.6" x2="1184" y2="126.6" stroke="#6EAE1E" stroke-width="2.3"/>
<circle cx="1145.9" cy="126.6" r="7.7" fill="#6AAA14"/>
<circle cx="1143.98" cy="124.52" r="4.62" fill="url(#ggh)"/>
<text x="1191.2" y="137.9" font-family="Liberation Sans" font-weight="bold" font-size="27.5" textLength="105.5" lengthAdjust="spacingAndGlyphs" fill="#000">TP(SRB)</text>
<line x1="1108.5" y1="166.6" x2="1184" y2="166.6" stroke="#1a1a1a" stroke-width="2.3"/>
<circle cx="1145.9" cy="166.6" r="7.1" fill="none" stroke="#111" stroke-width="1.1"/>
<text x="1191.2" y="177.5" font-family="Liberation Sans" font-weight="bold" font-size="27.5" textLength="152.5" lengthAdjust="spacingAndGlyphs" fill="#000">TP(Control)</text>
<text x="1302" y="99.4" font-family="Liberation Sans" font-weight="bold" font-size="17" textLength="18.2" lengthAdjust="spacingAndGlyphs" fill="#000">W</text>
<text x="1320.4" y="92.5" font-family="Liberation Sans" font-weight="bold" font-size="27.5" fill="#000">)</text>
<text x="1316.9" y="350.6" font-family="Liberation Serif" font-weight="bold" font-size="37" text-anchor="middle" fill="#000">V</text>
<text x="1316.9" y="471.5" font-family="Liberation Serif" font-weight="bold" font-size="37" text-anchor="middle" fill="#000">IV</text>
<text x="1317.5" y="538.7" font-family="Liberation Serif" font-weight="bold" font-size="37" text-anchor="middle" fill="#000">III</text>
</svg></body></html>
